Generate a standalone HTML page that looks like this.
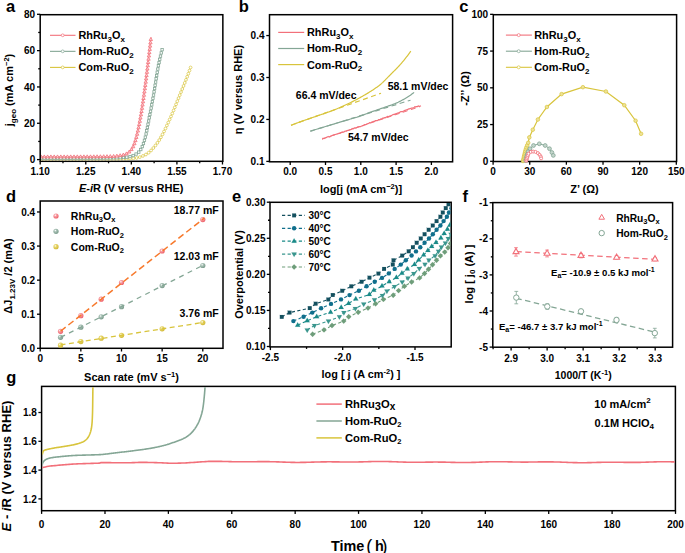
<!DOCTYPE html>
<html><head><meta charset="utf-8"><style>
html,body{margin:0;padding:0;background:#fff;overflow:hidden;width:685px;height:553px;}
svg{display:block;}
</style></head><body>
<svg width="685" height="553" viewBox="0 0 685 553" font-family="Liberation Sans, sans-serif" font-weight="bold" fill="#000">
<rect width="685" height="553" fill="#fff"/>
<text x="6" y="11.9" font-size="16.5" text-anchor="start" >a</text>
<text x="238.8" y="11.8" font-size="16.5" text-anchor="start" >b</text>
<text x="459.3" y="12" font-size="16.5" text-anchor="start" >c</text>
<text x="6" y="201.7" font-size="16.5" text-anchor="start" >d</text>
<text x="232" y="201.8" font-size="16.5" text-anchor="start" >e</text>
<text x="462.5" y="201.7" font-size="16.5" text-anchor="start" >f</text>
<text x="6.3" y="383.3" font-size="16.5" text-anchor="start" >g</text>
<rect x="40.2" y="14.7" width="182.65" height="146.6" fill="none" stroke="#000" stroke-width="1.5"/>
<line x1="37" y1="159.6" x2="40.2" y2="159.6" stroke="#000" stroke-width="1.3"/>
<line x1="37" y1="123.27" x2="40.2" y2="123.27" stroke="#000" stroke-width="1.3"/>
<line x1="37" y1="86.95" x2="40.2" y2="86.95" stroke="#000" stroke-width="1.3"/>
<line x1="37" y1="50.62" x2="40.2" y2="50.62" stroke="#000" stroke-width="1.3"/>
<line x1="37" y1="14.3" x2="40.2" y2="14.3" stroke="#000" stroke-width="1.3"/>
<line x1="38.2" y1="141.44" x2="40.2" y2="141.44" stroke="#000" stroke-width="1.3"/>
<line x1="38.2" y1="105.11" x2="40.2" y2="105.11" stroke="#000" stroke-width="1.3"/>
<line x1="38.2" y1="68.78" x2="40.2" y2="68.78" stroke="#000" stroke-width="1.3"/>
<line x1="38.2" y1="32.46" x2="40.2" y2="32.46" stroke="#000" stroke-width="1.3"/>
<line x1="40.2" y1="161.3" x2="40.2" y2="164.5" stroke="#000" stroke-width="1.3"/>
<line x1="85.77" y1="161.3" x2="85.77" y2="164.5" stroke="#000" stroke-width="1.3"/>
<line x1="131.34" y1="161.3" x2="131.34" y2="164.5" stroke="#000" stroke-width="1.3"/>
<line x1="176.91" y1="161.3" x2="176.91" y2="164.5" stroke="#000" stroke-width="1.3"/>
<line x1="222.48" y1="161.3" x2="222.48" y2="164.5" stroke="#000" stroke-width="1.3"/>
<line x1="62.98" y1="161.3" x2="62.98" y2="163.3" stroke="#000" stroke-width="1.3"/>
<line x1="108.55" y1="161.3" x2="108.55" y2="163.3" stroke="#000" stroke-width="1.3"/>
<line x1="154.12" y1="161.3" x2="154.12" y2="163.3" stroke="#000" stroke-width="1.3"/>
<line x1="199.69" y1="161.3" x2="199.69" y2="163.3" stroke="#000" stroke-width="1.3"/>
<text x="35.2" y="163.2" font-size="10" text-anchor="end" >0</text>
<text x="35.2" y="126.87" font-size="10" text-anchor="end" >20</text>
<text x="35.2" y="90.55" font-size="10" text-anchor="end" >40</text>
<text x="35.2" y="54.22" font-size="10" text-anchor="end" >60</text>
<text x="35.2" y="17.9" font-size="10" text-anchor="end" >80</text>
<text x="40.2" y="175" font-size="10" text-anchor="middle" >1.10</text>
<text x="85.77" y="175" font-size="10" text-anchor="middle" >1.25</text>
<text x="131.34" y="175" font-size="10" text-anchor="middle" >1.40</text>
<text x="176.91" y="175" font-size="10" text-anchor="middle" >1.55</text>
<text x="222.48" y="175" font-size="10" text-anchor="middle" >1.70</text>
<text x="131.2" y="192.3" font-size="11" text-anchor="middle" ><tspan font-style="italic">E</tspan>-<tspan font-style="italic">i</tspan>R (V versus RHE)</text>
<text transform="translate(13.2,90) rotate(-90)" x="0" y="0" font-size="11" text-anchor="middle" >j<tspan dy="2.5" font-size="8">geo</tspan><tspan dy="-2.5"> (mA cm</tspan><tspan dy="-4" font-size="7.5">−2</tspan><tspan dy="4">)</tspan></text>
<rect x="269.5" y="14.7" width="183.1" height="147.1" fill="none" stroke="#000" stroke-width="1.5"/>
<line x1="266.3" y1="161.4" x2="269.5" y2="161.4" stroke="#000" stroke-width="1.3"/>
<line x1="266.3" y1="119.45" x2="269.5" y2="119.45" stroke="#000" stroke-width="1.3"/>
<line x1="266.3" y1="77.5" x2="269.5" y2="77.5" stroke="#000" stroke-width="1.3"/>
<line x1="266.3" y1="35.55" x2="269.5" y2="35.55" stroke="#000" stroke-width="1.3"/>
<line x1="290.2" y1="161.8" x2="290.2" y2="165" stroke="#000" stroke-width="1.3"/>
<line x1="325.5" y1="161.8" x2="325.5" y2="165" stroke="#000" stroke-width="1.3"/>
<line x1="360.8" y1="161.8" x2="360.8" y2="165" stroke="#000" stroke-width="1.3"/>
<line x1="396.1" y1="161.8" x2="396.1" y2="165" stroke="#000" stroke-width="1.3"/>
<line x1="431.4" y1="161.8" x2="431.4" y2="165" stroke="#000" stroke-width="1.3"/>
<text x="264.5" y="165" font-size="10" text-anchor="end" >0.1</text>
<text x="264.5" y="123.05" font-size="10" text-anchor="end" >0.2</text>
<text x="264.5" y="81.1" font-size="10" text-anchor="end" >0.3</text>
<text x="264.5" y="39.15" font-size="10" text-anchor="end" >0.4</text>
<text x="290.2" y="175" font-size="10" text-anchor="middle" >0.0</text>
<text x="325.5" y="175" font-size="10" text-anchor="middle" >0.5</text>
<text x="360.8" y="175" font-size="10" text-anchor="middle" >1.0</text>
<text x="396.1" y="175" font-size="10" text-anchor="middle" >1.5</text>
<text x="431.4" y="175" font-size="10" text-anchor="middle" >2.0</text>
<text x="361" y="192.6" font-size="11" text-anchor="middle" >log[j (mA cm<tspan dy="-4" font-size="7.5">−2</tspan><tspan dy="4">)]</tspan></text>
<text transform="translate(242,89.5) rotate(-90)" x="0" y="0" font-size="11" text-anchor="middle" >η (V versus RHE)</text>
<rect x="493.3" y="14.7" width="183.3" height="146.8" fill="none" stroke="#000" stroke-width="1.5"/>
<line x1="490.1" y1="161.3" x2="493.3" y2="161.3" stroke="#000" stroke-width="1.3"/>
<line x1="490.1" y1="124.56" x2="493.3" y2="124.56" stroke="#000" stroke-width="1.3"/>
<line x1="490.1" y1="87.82" x2="493.3" y2="87.82" stroke="#000" stroke-width="1.3"/>
<line x1="490.1" y1="51.08" x2="493.3" y2="51.08" stroke="#000" stroke-width="1.3"/>
<line x1="490.1" y1="14.34" x2="493.3" y2="14.34" stroke="#000" stroke-width="1.3"/>
<line x1="493.1" y1="161.5" x2="493.1" y2="164.7" stroke="#000" stroke-width="1.3"/>
<line x1="529.74" y1="161.5" x2="529.74" y2="164.7" stroke="#000" stroke-width="1.3"/>
<line x1="566.38" y1="161.5" x2="566.38" y2="164.7" stroke="#000" stroke-width="1.3"/>
<line x1="603.02" y1="161.5" x2="603.02" y2="164.7" stroke="#000" stroke-width="1.3"/>
<line x1="639.66" y1="161.5" x2="639.66" y2="164.7" stroke="#000" stroke-width="1.3"/>
<line x1="676.3" y1="161.5" x2="676.3" y2="164.7" stroke="#000" stroke-width="1.3"/>
<text x="488.2" y="164.9" font-size="10" text-anchor="end" >0</text>
<text x="488.2" y="128.16" font-size="10" text-anchor="end" >25</text>
<text x="488.2" y="91.42" font-size="10" text-anchor="end" >50</text>
<text x="488.2" y="54.68" font-size="10" text-anchor="end" >75</text>
<text x="488.2" y="17.94" font-size="10" text-anchor="end" >100</text>
<text x="493.1" y="175" font-size="10" text-anchor="middle" >0</text>
<text x="529.74" y="175" font-size="10" text-anchor="middle" >30</text>
<text x="566.38" y="175" font-size="10" text-anchor="middle" >60</text>
<text x="603.02" y="175" font-size="10" text-anchor="middle" >90</text>
<text x="639.66" y="175" font-size="10" text-anchor="middle" >120</text>
<text x="676.3" y="175" font-size="10" text-anchor="middle" >150</text>
<text x="584.5" y="193" font-size="11" text-anchor="middle" >Z’ (Ω)</text>
<text transform="translate(469.3,88.5) rotate(-90)" x="0" y="0" font-size="11" text-anchor="middle" >-Z’’ (Ω)</text>
<rect x="40.2" y="201" width="182.8" height="147.3" fill="none" stroke="#000" stroke-width="1.5"/>
<line x1="37" y1="348.3" x2="40.2" y2="348.3" stroke="#000" stroke-width="1.3"/>
<line x1="37" y1="314.22" x2="40.2" y2="314.22" stroke="#000" stroke-width="1.3"/>
<line x1="37" y1="280.14" x2="40.2" y2="280.14" stroke="#000" stroke-width="1.3"/>
<line x1="37" y1="246.06" x2="40.2" y2="246.06" stroke="#000" stroke-width="1.3"/>
<line x1="37" y1="211.98" x2="40.2" y2="211.98" stroke="#000" stroke-width="1.3"/>
<line x1="40.2" y1="348.3" x2="40.2" y2="351.5" stroke="#000" stroke-width="1.3"/>
<line x1="80.85" y1="348.3" x2="80.85" y2="351.5" stroke="#000" stroke-width="1.3"/>
<line x1="121.5" y1="348.3" x2="121.5" y2="351.5" stroke="#000" stroke-width="1.3"/>
<line x1="162.15" y1="348.3" x2="162.15" y2="351.5" stroke="#000" stroke-width="1.3"/>
<line x1="202.8" y1="348.3" x2="202.8" y2="351.5" stroke="#000" stroke-width="1.3"/>
<text x="35.2" y="351.9" font-size="10" text-anchor="end" >0.0</text>
<text x="35.2" y="317.82" font-size="10" text-anchor="end" >0.1</text>
<text x="35.2" y="283.74" font-size="10" text-anchor="end" >0.2</text>
<text x="35.2" y="249.66" font-size="10" text-anchor="end" >0.3</text>
<text x="35.2" y="215.58" font-size="10" text-anchor="end" >0.4</text>
<text x="40.2" y="362" font-size="10" text-anchor="middle" >0</text>
<text x="80.85" y="362" font-size="10" text-anchor="middle" >5</text>
<text x="121.5" y="362" font-size="10" text-anchor="middle" >10</text>
<text x="162.15" y="362" font-size="10" text-anchor="middle" >15</text>
<text x="202.8" y="362" font-size="10" text-anchor="middle" >20</text>
<text x="131.5" y="380.8" font-size="11" text-anchor="middle" >Scan rate (mV s<tspan dy="-4" font-size="7.5">−1</tspan><tspan dy="4">)</tspan></text>
<text transform="translate(12.2,276) rotate(-90)" x="0" y="0" font-size="11" text-anchor="middle" >ΔJ<tspan dy="2.5" font-size="8">1.23V</tspan><tspan dy="-2.5"> /2 (mA)</tspan></text>
<rect x="270" y="202.3" width="181.2" height="144.6" fill="none" stroke="#000" stroke-width="1.5"/>
<line x1="266.8" y1="346.5" x2="270" y2="346.5" stroke="#000" stroke-width="1.3"/>
<line x1="266.8" y1="310.43" x2="270" y2="310.43" stroke="#000" stroke-width="1.3"/>
<line x1="266.8" y1="274.35" x2="270" y2="274.35" stroke="#000" stroke-width="1.3"/>
<line x1="266.8" y1="238.28" x2="270" y2="238.28" stroke="#000" stroke-width="1.3"/>
<line x1="266.8" y1="202.2" x2="270" y2="202.2" stroke="#000" stroke-width="1.3"/>
<line x1="268" y1="328.46" x2="270" y2="328.46" stroke="#000" stroke-width="1.3"/>
<line x1="268" y1="292.39" x2="270" y2="292.39" stroke="#000" stroke-width="1.3"/>
<line x1="268" y1="256.31" x2="270" y2="256.31" stroke="#000" stroke-width="1.3"/>
<line x1="268" y1="220.24" x2="270" y2="220.24" stroke="#000" stroke-width="1.3"/>
<line x1="270.4" y1="346.9" x2="270.4" y2="350.1" stroke="#000" stroke-width="1.3"/>
<line x1="342.7" y1="346.9" x2="342.7" y2="350.1" stroke="#000" stroke-width="1.3"/>
<line x1="415" y1="346.9" x2="415" y2="350.1" stroke="#000" stroke-width="1.3"/>
<line x1="306.55" y1="346.9" x2="306.55" y2="348.9" stroke="#000" stroke-width="1.3"/>
<line x1="378.85" y1="346.9" x2="378.85" y2="348.9" stroke="#000" stroke-width="1.3"/>
<text x="265.5" y="350.1" font-size="10" text-anchor="end" >0.10</text>
<text x="265.5" y="314.03" font-size="10" text-anchor="end" >0.15</text>
<text x="265.5" y="277.95" font-size="10" text-anchor="end" >0.20</text>
<text x="265.5" y="241.88" font-size="10" text-anchor="end" >0.25</text>
<text x="265.5" y="205.8" font-size="10" text-anchor="end" >0.30</text>
<text x="270.4" y="361" font-size="10" text-anchor="middle" >-2.5</text>
<text x="342.7" y="361" font-size="10" text-anchor="middle" >-2.0</text>
<text x="415" y="361" font-size="10" text-anchor="middle" >-1.5</text>
<text x="361" y="378" font-size="10.9" text-anchor="middle" >log [ j (A cm<tspan dy="-4" font-size="7.5">-2</tspan><tspan dy="4">) ]</tspan></text>
<text transform="translate(242.5,274.5) rotate(-90)" x="0" y="0" font-size="11" text-anchor="middle" >Overpotential (V)</text>
<rect x="492.8" y="202.6" width="179.8" height="144.6" fill="none" stroke="#000" stroke-width="1.5"/>
<line x1="489.6" y1="202.7" x2="492.8" y2="202.7" stroke="#000" stroke-width="1.3"/>
<line x1="489.6" y1="238.8" x2="492.8" y2="238.8" stroke="#000" stroke-width="1.3"/>
<line x1="489.6" y1="274.9" x2="492.8" y2="274.9" stroke="#000" stroke-width="1.3"/>
<line x1="489.6" y1="311" x2="492.8" y2="311" stroke="#000" stroke-width="1.3"/>
<line x1="489.6" y1="347.1" x2="492.8" y2="347.1" stroke="#000" stroke-width="1.3"/>
<line x1="490.8" y1="220.75" x2="492.8" y2="220.75" stroke="#000" stroke-width="1.3"/>
<line x1="490.8" y1="256.85" x2="492.8" y2="256.85" stroke="#000" stroke-width="1.3"/>
<line x1="490.8" y1="292.95" x2="492.8" y2="292.95" stroke="#000" stroke-width="1.3"/>
<line x1="490.8" y1="329.05" x2="492.8" y2="329.05" stroke="#000" stroke-width="1.3"/>
<line x1="511.1" y1="347.2" x2="511.1" y2="350.4" stroke="#000" stroke-width="1.3"/>
<line x1="547.12" y1="347.2" x2="547.12" y2="350.4" stroke="#000" stroke-width="1.3"/>
<line x1="583.14" y1="347.2" x2="583.14" y2="350.4" stroke="#000" stroke-width="1.3"/>
<line x1="619.16" y1="347.2" x2="619.16" y2="350.4" stroke="#000" stroke-width="1.3"/>
<line x1="655.18" y1="347.2" x2="655.18" y2="350.4" stroke="#000" stroke-width="1.3"/>
<line x1="493.09" y1="347.2" x2="493.09" y2="349.2" stroke="#000" stroke-width="1.3"/>
<line x1="529.11" y1="347.2" x2="529.11" y2="349.2" stroke="#000" stroke-width="1.3"/>
<line x1="565.13" y1="347.2" x2="565.13" y2="349.2" stroke="#000" stroke-width="1.3"/>
<line x1="601.15" y1="347.2" x2="601.15" y2="349.2" stroke="#000" stroke-width="1.3"/>
<line x1="637.17" y1="347.2" x2="637.17" y2="349.2" stroke="#000" stroke-width="1.3"/>
<text x="488" y="206.3" font-size="10" text-anchor="end" >-1</text>
<text x="488" y="242.4" font-size="10" text-anchor="end" >-2</text>
<text x="488" y="278.5" font-size="10" text-anchor="end" >-3</text>
<text x="488" y="314.6" font-size="10" text-anchor="end" >-4</text>
<text x="488" y="350.7" font-size="10" text-anchor="end" >-5</text>
<text x="511.1" y="362" font-size="10" text-anchor="middle" >2.9</text>
<text x="547.12" y="362" font-size="10" text-anchor="middle" >3.0</text>
<text x="583.14" y="362" font-size="10" text-anchor="middle" >3.1</text>
<text x="619.16" y="362" font-size="10" text-anchor="middle" >3.2</text>
<text x="655.18" y="362" font-size="10" text-anchor="middle" >3.3</text>
<text x="583.2" y="379.2" font-size="10.5" text-anchor="middle" >1000/T (K<tspan dy="-4" font-size="7.5">-1</tspan><tspan dy="4">)</tspan></text>
<text transform="translate(472.5,274) rotate(-90)" x="0" y="0" font-size="11" text-anchor="middle" >log [ j<tspan dy="2.5" font-size="8">0</tspan><tspan dy="-2.5"> (A) ]</tspan></text>
<rect x="41.6" y="386.4" width="633.8" height="124.3" fill="none" stroke="#000" stroke-width="1.5"/>
<line x1="38.4" y1="498.9" x2="41.6" y2="498.9" stroke="#000" stroke-width="1.3"/>
<line x1="38.4" y1="470.1" x2="41.6" y2="470.1" stroke="#000" stroke-width="1.3"/>
<line x1="38.4" y1="441.3" x2="41.6" y2="441.3" stroke="#000" stroke-width="1.3"/>
<line x1="38.4" y1="412.5" x2="41.6" y2="412.5" stroke="#000" stroke-width="1.3"/>
<line x1="41.6" y1="510.7" x2="41.6" y2="513.9" stroke="#000" stroke-width="1.3"/>
<line x1="104.99" y1="510.7" x2="104.99" y2="513.9" stroke="#000" stroke-width="1.3"/>
<line x1="168.38" y1="510.7" x2="168.38" y2="513.9" stroke="#000" stroke-width="1.3"/>
<line x1="231.77" y1="510.7" x2="231.77" y2="513.9" stroke="#000" stroke-width="1.3"/>
<line x1="295.16" y1="510.7" x2="295.16" y2="513.9" stroke="#000" stroke-width="1.3"/>
<line x1="358.55" y1="510.7" x2="358.55" y2="513.9" stroke="#000" stroke-width="1.3"/>
<line x1="421.94" y1="510.7" x2="421.94" y2="513.9" stroke="#000" stroke-width="1.3"/>
<line x1="485.33" y1="510.7" x2="485.33" y2="513.9" stroke="#000" stroke-width="1.3"/>
<line x1="548.72" y1="510.7" x2="548.72" y2="513.9" stroke="#000" stroke-width="1.3"/>
<line x1="612.11" y1="510.7" x2="612.11" y2="513.9" stroke="#000" stroke-width="1.3"/>
<line x1="675.5" y1="510.7" x2="675.5" y2="513.9" stroke="#000" stroke-width="1.3"/>
<text x="36.8" y="502.5" font-size="10" text-anchor="end" >1.2</text>
<text x="36.8" y="473.7" font-size="10" text-anchor="end" >1.4</text>
<text x="36.8" y="444.9" font-size="10" text-anchor="end" >1.6</text>
<text x="36.8" y="416.1" font-size="10" text-anchor="end" >1.8</text>
<text x="41.6" y="528" font-size="10" text-anchor="middle" >0</text>
<text x="104.99" y="528" font-size="10" text-anchor="middle" >20</text>
<text x="168.38" y="528" font-size="10" text-anchor="middle" >40</text>
<text x="231.77" y="528" font-size="10" text-anchor="middle" >60</text>
<text x="295.16" y="528" font-size="10" text-anchor="middle" >80</text>
<text x="358.55" y="528" font-size="10" text-anchor="middle" >100</text>
<text x="421.94" y="528" font-size="10" text-anchor="middle" >120</text>
<text x="485.33" y="528" font-size="10" text-anchor="middle" >140</text>
<text x="548.72" y="528" font-size="10" text-anchor="middle" >160</text>
<text x="612.11" y="528" font-size="10" text-anchor="middle" >180</text>
<text x="675.5" y="528" font-size="10" text-anchor="middle" >200</text>
<text x="331" y="551.2" font-size="14.4" text-anchor="start" >Time</text>
<text x="366.3" y="551.8" font-size="18" font-weight="normal">(</text>
<text x="375" y="551.2" font-size="14.4" text-anchor="start" >h</text>
<text x="381.6" y="551.8" font-size="18" font-weight="normal">)</text>
<text transform="translate(10.8,466) rotate(-90)" x="0" y="0" font-size="13" text-anchor="middle" ><tspan font-style="italic">E</tspan> - <tspan font-style="italic">i</tspan>R (V versus RHE)</text>
<defs><clipPath id="clipA"><rect x="41" y="15" width="181" height="145.5"/></clipPath></defs>
<g clip-path="url(#clipA)">
<path d="M41,159.3 L41.51,159.3 L42.03,159.3 L42.54,159.3 L43.06,159.3 L43.57,159.3 L44.09,159.3 L44.6,159.3 L45.11,159.3 L45.63,159.3 L46.14,159.3 L46.66,159.3 L47.17,159.3 L47.68,159.3 L48.2,159.3 L48.71,159.3 L49.23,159.3 L49.74,159.3 L50.26,159.3 L50.77,159.3 L51.28,159.3 L51.8,159.3 L52.31,159.3 L52.83,159.3 L53.34,159.3 L53.85,159.3 L54.37,159.3 L54.88,159.3 L55.4,159.3 L55.91,159.3 L56.43,159.3 L56.94,159.3 L57.45,159.3 L57.97,159.3 L58.48,159.29 L59,159.29 L59.51,159.29 L60.02,159.29 L60.54,159.29 L61.05,159.29 L61.57,159.29 L62.08,159.29 L62.59,159.29 L63.11,159.29 L63.62,159.29 L64.14,159.29 L64.65,159.29 L65.17,159.29 L65.68,159.29 L66.19,159.29 L66.71,159.29 L67.22,159.29 L67.74,159.29 L68.25,159.29 L68.76,159.29 L69.28,159.29 L69.79,159.29 L70.31,159.28 L70.82,159.28 L71.33,159.28 L71.85,159.28 L72.36,159.28 L72.88,159.28 L73.39,159.28 L73.91,159.28 L74.42,159.28 L74.93,159.28 L75.45,159.28 L75.96,159.28 L76.48,159.28 L76.99,159.28 L77.5,159.28 L78.02,159.28 L78.53,159.27 L79.05,159.27 L79.56,159.27 L80.07,159.27 L80.59,159.27 L81.1,159.27 L81.62,159.27 L82.13,159.27 L82.65,159.27 L83.16,159.27 L83.67,159.27 L84.19,159.27 L84.7,159.26 L85.22,159.26 L85.73,159.26 L86.24,159.26 L86.76,159.26 L87.27,159.26 L87.79,159.26 L88.3,159.26 L88.81,159.26 L89.33,159.26 L89.84,159.25 L90.36,159.25 L90.87,159.25 L91.38,159.25 L91.9,159.25 L92.41,159.25 L92.93,159.25 L93.44,159.25 L93.95,159.25 L94.47,159.24 L94.98,159.24 L95.5,159.24 L96.01,159.24 L96.53,159.24 L97.04,159.24 L97.55,159.24 L98.07,159.24 L98.58,159.23 L99.1,159.23 L99.61,159.23 L100.12,159.23 L100.64,159.23 L101.15,159.23 L101.67,159.23 L102.18,159.22 L102.69,159.22 L103.21,159.22 L103.72,159.22 L104.24,159.22 L104.75,159.22 L105.26,159.21 L105.78,159.21 L106.29,159.21 L106.81,159.21 L107.32,159.21 L107.83,159.21 L108.35,159.21 L108.86,159.2 L109.38,159.2 L109.89,159.2 L110.4,159.2 L110.92,159.2 L111.43,159.19 L111.95,159.19 L112.46,159.18 L112.98,159.18 L113.49,159.17 L114,159.17 L114.52,159.16 L115.03,159.15 L115.55,159.14 L116.06,159.13 L116.57,159.12 L117.09,159.11 L117.6,159.1 L118.12,159.09 L118.63,159.08 L119.15,159.07 L119.66,159.05 L120.17,159.04 L120.69,159.03 L121.2,159.01 L121.72,159 L122.23,158.99 L122.74,158.97 L123.26,158.95 L123.77,158.94 L124.28,158.92 L124.8,158.91 L125.31,158.89 L125.82,158.87 L126.34,158.85 L126.85,158.83 L127.37,158.8 L127.89,158.78 L128.4,158.75 L128.92,158.72 L129.43,158.69 L129.95,158.66 L130.46,158.62 L130.98,158.58 L131.49,158.54 L132.01,158.5 L132.52,158.45 L133.03,158.41 L133.54,158.36 L134.05,158.3 L134.56,158.25 L135.06,158.19 L135.57,158.13 L136.07,158.06 L136.57,157.98 L137.08,157.88 L137.58,157.76 L138.08,157.63 L138.58,157.49 L139.08,157.34 L139.57,157.18 L140.06,157.01 L140.55,156.84 L141.03,156.67 L141.51,156.5 L141.99,156.32 L142.47,156.13 L142.95,155.94 L143.43,155.73 L143.9,155.52 L144.37,155.29 L144.84,155.06 L145.31,154.82 L145.76,154.58 L146.21,154.33 L146.66,154.07 L147.09,153.8 L147.51,153.53 L147.92,153.25 L148.33,152.95 L148.73,152.64 L149.12,152.32 L149.51,151.98 L149.89,151.64 L150.27,151.28 L150.64,150.92 L151.01,150.54 L151.37,150.17 L151.73,149.78 L152.08,149.4 L152.43,149.01 L152.77,148.62 L153.12,148.24 L153.45,147.85 L153.79,147.47 L154.12,147.08 L154.45,146.69 L154.77,146.29 L155.1,145.89 L155.42,145.49 L155.74,145.08 L156.05,144.67 L156.36,144.26 L156.67,143.84 L156.98,143.42 L157.28,143 L157.58,142.58 L157.87,142.16 L158.16,141.73 L158.45,141.3 L158.73,140.87 L159.01,140.44 L159.28,140.01 L159.55,139.58 L159.82,139.14 L160.08,138.71 L160.34,138.27 L160.6,137.83 L160.86,137.39 L161.11,136.95 L161.37,136.5 L161.62,136.05 L161.86,135.61 L162.11,135.16 L162.35,134.7 L162.6,134.25 L162.84,133.8 L163.08,133.34 L163.31,132.88 L163.55,132.43 L163.78,131.97 L164.01,131.51 L164.24,131.05 L164.47,130.58 L164.7,130.12 L164.93,129.66 L165.15,129.19 L165.38,128.73 L165.6,128.26 L165.82,127.79 L166.04,127.33 L166.26,126.86 L166.48,126.39 L166.7,125.92 L166.92,125.45 L167.14,124.99 L167.35,124.52 L167.57,124.05 L167.78,123.58 L168,123.11 L168.21,122.64 L168.43,122.17 L168.64,121.7 L168.85,121.23 L169.07,120.77 L169.28,120.3 L169.49,119.83 L169.71,119.37 L169.92,118.9 L170.13,118.43 L170.34,117.96 L170.55,117.49 L170.76,117.02 L170.96,116.55 L171.17,116.08 L171.38,115.61 L171.58,115.14 L171.78,114.67 L171.99,114.2 L172.19,113.72 L172.39,113.25 L172.59,112.78 L172.79,112.3 L172.99,111.83 L173.18,111.36 L173.38,110.88 L173.58,110.41 L173.78,109.93 L173.97,109.46 L174.17,108.98 L174.36,108.5 L174.56,108.03 L174.75,107.55 L174.95,107.07 L175.14,106.6 L175.33,106.12 L175.53,105.64 L175.72,105.17 L175.91,104.69 L176.1,104.21 L176.3,103.73 L176.49,103.26 L176.68,102.78 L176.87,102.3 L177.06,101.83 L177.26,101.35 L177.45,100.87 L177.64,100.39 L177.83,99.92 L178.02,99.44 L178.22,98.96 L178.41,98.49 L178.6,98.01 L178.8,97.53 L178.99,97.06 L179.18,96.58 L179.38,96.1 L179.57,95.63 L179.77,95.15 L179.96,94.68 L180.15,94.2 L180.35,93.72 L180.54,93.25 L180.74,92.77 L180.93,92.3 L181.13,91.82 L181.33,91.34 L181.52,90.87 L181.71,90.39 L181.91,89.92 L182.1,89.44 L182.3,88.97 L182.49,88.49 L182.69,88.01 L182.88,87.54 L183.08,87.06 L183.27,86.58 L183.46,86.11 L183.66,85.63 L183.85,85.16 L184.04,84.68 L184.23,84.2 L184.43,83.72 L184.62,83.25 L184.81,82.77 L185,82.29 L185.19,81.82 L185.38,81.34 L185.57,80.86 L185.76,80.38 L185.95,79.9 L186.14,79.43 L186.32,78.95 L186.51,78.47 L186.7,77.99 L186.88,77.51 L187.07,77.03 L187.25,76.55 L187.44,76.07 L187.62,75.59 L187.8,75.11 L187.98,74.63 L188.16,74.15 L188.34,73.67 L188.52,73.18 L188.7,72.7 L188.88,72.22 L189.06,71.74 L189.23,71.25 L189.41,70.77 L189.58,70.29 L189.76,69.8 L189.93,69.32 L190.11,68.84 L190.28,68.35 L190.45,67.87 L190.63,67.38 L190.8,66.9" fill="none" stroke="#d8c43c" stroke-width="0.8"/>
<circle cx="41" cy="159.3" r="1.4" fill="#fff" stroke="#d8c43c" stroke-width="0.7"/>
<circle cx="44.3" cy="159.3" r="1.4" fill="#fff" stroke="#d8c43c" stroke-width="0.7"/>
<circle cx="47.6" cy="159.3" r="1.4" fill="#fff" stroke="#d8c43c" stroke-width="0.7"/>
<circle cx="50.9" cy="159.3" r="1.4" fill="#fff" stroke="#d8c43c" stroke-width="0.7"/>
<circle cx="54.2" cy="159.3" r="1.4" fill="#fff" stroke="#d8c43c" stroke-width="0.7"/>
<circle cx="57.5" cy="159.3" r="1.4" fill="#fff" stroke="#d8c43c" stroke-width="0.7"/>
<circle cx="60.8" cy="159.29" r="1.4" fill="#fff" stroke="#d8c43c" stroke-width="0.7"/>
<circle cx="64.1" cy="159.29" r="1.4" fill="#fff" stroke="#d8c43c" stroke-width="0.7"/>
<circle cx="67.4" cy="159.29" r="1.4" fill="#fff" stroke="#d8c43c" stroke-width="0.7"/>
<circle cx="70.7" cy="159.28" r="1.4" fill="#fff" stroke="#d8c43c" stroke-width="0.7"/>
<circle cx="74" cy="159.28" r="1.4" fill="#fff" stroke="#d8c43c" stroke-width="0.7"/>
<circle cx="77.3" cy="159.28" r="1.4" fill="#fff" stroke="#d8c43c" stroke-width="0.7"/>
<circle cx="80.6" cy="159.27" r="1.4" fill="#fff" stroke="#d8c43c" stroke-width="0.7"/>
<circle cx="83.9" cy="159.27" r="1.4" fill="#fff" stroke="#d8c43c" stroke-width="0.7"/>
<circle cx="87.2" cy="159.26" r="1.4" fill="#fff" stroke="#d8c43c" stroke-width="0.7"/>
<circle cx="90.5" cy="159.25" r="1.4" fill="#fff" stroke="#d8c43c" stroke-width="0.7"/>
<circle cx="93.8" cy="159.25" r="1.4" fill="#fff" stroke="#d8c43c" stroke-width="0.7"/>
<circle cx="97.1" cy="159.24" r="1.4" fill="#fff" stroke="#d8c43c" stroke-width="0.7"/>
<circle cx="100.4" cy="159.23" r="1.4" fill="#fff" stroke="#d8c43c" stroke-width="0.7"/>
<circle cx="103.7" cy="159.22" r="1.4" fill="#fff" stroke="#d8c43c" stroke-width="0.7"/>
<circle cx="107" cy="159.21" r="1.4" fill="#fff" stroke="#d8c43c" stroke-width="0.7"/>
<circle cx="110.3" cy="159.2" r="1.4" fill="#fff" stroke="#d8c43c" stroke-width="0.7"/>
<circle cx="113.6" cy="159.17" r="1.4" fill="#fff" stroke="#d8c43c" stroke-width="0.7"/>
<circle cx="116.9" cy="159.12" r="1.4" fill="#fff" stroke="#d8c43c" stroke-width="0.7"/>
<circle cx="120.2" cy="159.04" r="1.4" fill="#fff" stroke="#d8c43c" stroke-width="0.7"/>
<circle cx="123.5" cy="158.95" r="1.4" fill="#fff" stroke="#d8c43c" stroke-width="0.7"/>
<circle cx="126.8" cy="158.83" r="1.4" fill="#fff" stroke="#d8c43c" stroke-width="0.7"/>
<circle cx="130.09" cy="158.65" r="1.4" fill="#fff" stroke="#d8c43c" stroke-width="0.7"/>
<circle cx="133.38" cy="158.37" r="1.4" fill="#fff" stroke="#d8c43c" stroke-width="0.7"/>
<circle cx="136.65" cy="157.96" r="1.4" fill="#fff" stroke="#d8c43c" stroke-width="0.7"/>
<circle cx="139.83" cy="157.09" r="1.4" fill="#fff" stroke="#d8c43c" stroke-width="0.7"/>
<circle cx="142.93" cy="155.94" r="1.4" fill="#fff" stroke="#d8c43c" stroke-width="0.7"/>
<circle cx="145.89" cy="154.51" r="1.4" fill="#fff" stroke="#d8c43c" stroke-width="0.7"/>
<circle cx="148.65" cy="152.7" r="1.4" fill="#fff" stroke="#d8c43c" stroke-width="0.7"/>
<circle cx="151.08" cy="150.47" r="1.4" fill="#fff" stroke="#d8c43c" stroke-width="0.7"/>
<circle cx="153.3" cy="148.03" r="1.4" fill="#fff" stroke="#d8c43c" stroke-width="0.7"/>
<circle cx="155.41" cy="145.5" r="1.4" fill="#fff" stroke="#d8c43c" stroke-width="0.7"/>
<circle cx="157.39" cy="142.85" r="1.4" fill="#fff" stroke="#d8c43c" stroke-width="0.7"/>
<circle cx="159.22" cy="140.11" r="1.4" fill="#fff" stroke="#d8c43c" stroke-width="0.7"/>
<circle cx="160.92" cy="137.28" r="1.4" fill="#fff" stroke="#d8c43c" stroke-width="0.7"/>
<circle cx="162.52" cy="134.39" r="1.4" fill="#fff" stroke="#d8c43c" stroke-width="0.7"/>
<circle cx="164.04" cy="131.46" r="1.4" fill="#fff" stroke="#d8c43c" stroke-width="0.7"/>
<circle cx="165.49" cy="128.5" r="1.4" fill="#fff" stroke="#d8c43c" stroke-width="0.7"/>
<circle cx="166.89" cy="125.51" r="1.4" fill="#fff" stroke="#d8c43c" stroke-width="0.7"/>
<circle cx="168.27" cy="122.51" r="1.4" fill="#fff" stroke="#d8c43c" stroke-width="0.7"/>
<circle cx="169.64" cy="119.51" r="1.4" fill="#fff" stroke="#d8c43c" stroke-width="0.7"/>
<circle cx="170.99" cy="116.5" r="1.4" fill="#fff" stroke="#d8c43c" stroke-width="0.7"/>
<circle cx="172.3" cy="113.47" r="1.4" fill="#fff" stroke="#d8c43c" stroke-width="0.7"/>
<circle cx="173.57" cy="110.43" r="1.4" fill="#fff" stroke="#d8c43c" stroke-width="0.7"/>
<circle cx="174.82" cy="107.37" r="1.4" fill="#fff" stroke="#d8c43c" stroke-width="0.7"/>
<circle cx="176.06" cy="104.31" r="1.4" fill="#fff" stroke="#d8c43c" stroke-width="0.7"/>
<circle cx="177.29" cy="101.25" r="1.4" fill="#fff" stroke="#d8c43c" stroke-width="0.7"/>
<circle cx="178.53" cy="98.19" r="1.4" fill="#fff" stroke="#d8c43c" stroke-width="0.7"/>
<circle cx="179.77" cy="95.13" r="1.4" fill="#fff" stroke="#d8c43c" stroke-width="0.7"/>
<circle cx="181.02" cy="92.08" r="1.4" fill="#fff" stroke="#d8c43c" stroke-width="0.7"/>
<circle cx="182.27" cy="89.03" r="1.4" fill="#fff" stroke="#d8c43c" stroke-width="0.7"/>
<circle cx="183.52" cy="85.97" r="1.4" fill="#fff" stroke="#d8c43c" stroke-width="0.7"/>
<circle cx="184.75" cy="82.91" r="1.4" fill="#fff" stroke="#d8c43c" stroke-width="0.7"/>
<circle cx="185.97" cy="79.84" r="1.4" fill="#fff" stroke="#d8c43c" stroke-width="0.7"/>
<circle cx="187.17" cy="76.77" r="1.4" fill="#fff" stroke="#d8c43c" stroke-width="0.7"/>
<circle cx="188.34" cy="73.68" r="1.4" fill="#fff" stroke="#d8c43c" stroke-width="0.7"/>
<circle cx="189.48" cy="70.59" r="1.4" fill="#fff" stroke="#d8c43c" stroke-width="0.7"/>
<circle cx="190.59" cy="67.48" r="1.4" fill="#fff" stroke="#d8c43c" stroke-width="0.7"/>
<path d="M41,158.2 L41.51,158.2 L42.03,158.2 L42.54,158.2 L43.05,158.2 L43.56,158.2 L44.08,158.2 L44.59,158.2 L45.1,158.2 L45.61,158.2 L46.13,158.2 L46.64,158.2 L47.15,158.2 L47.66,158.2 L48.18,158.2 L48.69,158.2 L49.2,158.2 L49.71,158.2 L50.23,158.2 L50.74,158.2 L51.25,158.2 L51.76,158.2 L52.28,158.2 L52.79,158.2 L53.3,158.2 L53.81,158.2 L54.33,158.2 L54.84,158.2 L55.35,158.19 L55.86,158.19 L56.38,158.19 L56.89,158.19 L57.4,158.19 L57.91,158.19 L58.43,158.19 L58.94,158.19 L59.45,158.19 L59.96,158.19 L60.48,158.19 L60.99,158.19 L61.5,158.19 L62.01,158.19 L62.53,158.19 L63.04,158.19 L63.55,158.19 L64.06,158.19 L64.58,158.19 L65.09,158.18 L65.6,158.18 L66.11,158.18 L66.63,158.18 L67.14,158.18 L67.65,158.18 L68.16,158.18 L68.68,158.18 L69.19,158.18 L69.7,158.18 L70.21,158.18 L70.73,158.18 L71.24,158.18 L71.75,158.17 L72.26,158.17 L72.78,158.17 L73.29,158.17 L73.8,158.17 L74.31,158.17 L74.83,158.17 L75.34,158.17 L75.85,158.17 L76.36,158.17 L76.88,158.17 L77.39,158.16 L77.9,158.16 L78.41,158.16 L78.93,158.16 L79.44,158.16 L79.95,158.16 L80.46,158.16 L80.98,158.16 L81.49,158.15 L82,158.15 L82.51,158.15 L83.03,158.15 L83.54,158.15 L84.05,158.15 L84.56,158.15 L85.08,158.15 L85.59,158.14 L86.1,158.14 L86.61,158.14 L87.13,158.14 L87.64,158.14 L88.15,158.14 L88.66,158.14 L89.18,158.14 L89.69,158.13 L90.2,158.13 L90.71,158.13 L91.23,158.13 L91.74,158.13 L92.25,158.13 L92.76,158.12 L93.28,158.12 L93.79,158.12 L94.3,158.12 L94.81,158.12 L95.33,158.12 L95.84,158.11 L96.35,158.11 L96.86,158.11 L97.37,158.11 L97.89,158.11 L98.4,158.11 L98.91,158.1 L99.42,158.1 L99.94,158.1 L100.45,158.1 L100.96,158.1 L101.47,158.09 L101.99,158.09 L102.5,158.09 L103.01,158.08 L103.53,158.08 L104.04,158.07 L104.55,158.07 L105.06,158.06 L105.58,158.05 L106.09,158.05 L106.6,158.04 L107.11,158.03 L107.63,158.02 L108.14,158.02 L108.65,158.01 L109.17,158 L109.68,157.99 L110.19,157.98 L110.7,157.97 L111.22,157.95 L111.73,157.94 L112.24,157.93 L112.75,157.92 L113.27,157.91 L113.78,157.89 L114.29,157.88 L114.8,157.87 L115.31,157.85 L115.83,157.84 L116.34,157.82 L116.85,157.81 L117.36,157.79 L117.87,157.77 L118.39,157.76 L118.9,157.74 L119.41,157.72 L119.92,157.7 L120.43,157.68 L120.94,157.66 L121.46,157.63 L121.97,157.6 L122.48,157.57 L123,157.53 L123.51,157.49 L124.02,157.45 L124.54,157.4 L125.05,157.35 L125.56,157.3 L126.07,157.24 L126.58,157.19 L127.08,157.12 L127.59,157.06 L128.09,156.99 L128.59,156.9 L129.09,156.8 L129.59,156.69 L130.09,156.56 L130.59,156.42 L131.09,156.27 L131.58,156.11 L132.06,155.94 L132.54,155.77 L133.02,155.59 L133.49,155.41 L133.96,155.2 L134.43,154.98 L134.89,154.74 L135.35,154.5 L135.79,154.24 L136.23,153.97 L136.65,153.7 L137.08,153.41 L137.51,153.11 L137.94,152.79 L138.36,152.46 L138.76,152.12 L139.13,151.77 L139.47,151.4 L139.78,151.03 L140.05,150.65 L140.32,150.25 L140.58,149.84 L140.84,149.42 L141.08,148.98 L141.32,148.54 L141.55,148.09 L141.78,147.62 L142,147.16 L142.21,146.68 L142.42,146.2 L142.62,145.71 L142.81,145.22 L143,144.72 L143.18,144.22 L143.36,143.72 L143.54,143.22 L143.7,142.71 L143.87,142.21 L144.03,141.71 L144.19,141.21 L144.34,140.71 L144.49,140.22 L144.63,139.73 L144.77,139.24 L144.91,138.76 L145.05,138.27 L145.18,137.78 L145.31,137.29 L145.44,136.8 L145.56,136.3 L145.68,135.81 L145.8,135.31 L145.92,134.82 L146.03,134.32 L146.14,133.82 L146.25,133.32 L146.36,132.82 L146.47,132.32 L146.57,131.81 L146.68,131.31 L146.78,130.81 L146.88,130.3 L146.98,129.8 L147.07,129.29 L147.17,128.78 L147.27,128.28 L147.36,127.77 L147.46,127.27 L147.55,126.76 L147.65,126.25 L147.74,125.74 L147.83,125.24 L147.93,124.73 L148.02,124.22 L148.11,123.72 L148.21,123.21 L148.3,122.7 L148.4,122.2 L148.49,121.69 L148.59,121.19 L148.69,120.69 L148.78,120.18 L148.88,119.68 L148.98,119.18 L149.08,118.67 L149.18,118.17 L149.28,117.67 L149.38,117.17 L149.48,116.66 L149.58,116.16 L149.68,115.66 L149.78,115.15 L149.88,114.65 L149.98,114.15 L150.08,113.65 L150.18,113.14 L150.27,112.64 L150.37,112.14 L150.47,111.63 L150.57,111.13 L150.66,110.63 L150.76,110.12 L150.86,109.62 L150.95,109.12 L151.05,108.61 L151.15,108.11 L151.24,107.61 L151.34,107.1 L151.43,106.6 L151.53,106.09 L151.62,105.59 L151.72,105.09 L151.81,104.58 L151.9,104.08 L152,103.58 L152.09,103.07 L152.18,102.57 L152.28,102.06 L152.37,101.56 L152.46,101.06 L152.55,100.55 L152.64,100.05 L152.73,99.54 L152.83,99.04 L152.92,98.53 L153.01,98.03 L153.1,97.52 L153.19,97.02 L153.27,96.52 L153.36,96.01 L153.45,95.51 L153.54,95 L153.63,94.5 L153.71,93.99 L153.8,93.49 L153.88,92.98 L153.97,92.48 L154.05,91.97 L154.13,91.46 L154.21,90.96 L154.3,90.45 L154.38,89.95 L154.46,89.44 L154.54,88.93 L154.62,88.43 L154.7,87.92 L154.78,87.42 L154.86,86.91 L154.94,86.4 L155.02,85.9 L155.1,85.39 L155.18,84.88 L155.26,84.38 L155.34,83.87 L155.42,83.36 L155.5,82.86 L155.57,82.35 L155.65,81.84 L155.73,81.34 L155.81,80.83 L155.89,80.33 L155.97,79.82 L156.05,79.31 L156.14,78.81 L156.22,78.3 L156.3,77.8 L156.38,77.29 L156.46,76.78 L156.55,76.28 L156.63,75.77 L156.72,75.27 L156.8,74.76 L156.89,74.26 L156.98,73.75 L157.06,73.25 L157.15,72.74 L157.24,72.24 L157.33,71.73 L157.42,71.23 L157.51,70.72 L157.6,70.22 L157.69,69.72 L157.79,69.21 L157.88,68.71 L157.97,68.2 L158.06,67.7 L158.16,67.2 L158.25,66.69 L158.35,66.19 L158.45,65.68 L158.54,65.18 L158.64,64.68 L158.74,64.17 L158.84,63.67 L158.94,63.17 L159.04,62.67 L159.14,62.16 L159.25,61.66 L159.35,61.16 L159.46,60.66 L159.57,60.16 L159.67,59.66 L159.78,59.16 L159.89,58.66 L160.01,58.16 L160.12,57.66 L160.24,57.16 L160.35,56.66 L160.47,56.16 L160.59,55.66 L160.71,55.17 L160.83,54.67 L160.95,54.17 L161.08,53.67 L161.2,53.17 L161.33,52.68 L161.45,52.18 L161.58,51.68 L161.71,51.19 L161.84,50.69 L161.97,50.2 L162.1,49.7" fill="none" stroke="#84a695" stroke-width="0.8"/>
<rect x="39.8" y="157" width="2.4" height="2.4" fill="#fff" stroke="#84a695" stroke-width="0.8"/>
<rect x="43.1" y="157" width="2.4" height="2.4" fill="#fff" stroke="#84a695" stroke-width="0.8"/>
<rect x="46.4" y="157" width="2.4" height="2.4" fill="#fff" stroke="#84a695" stroke-width="0.8"/>
<rect x="49.7" y="157" width="2.4" height="2.4" fill="#fff" stroke="#84a695" stroke-width="0.8"/>
<rect x="53" y="157" width="2.4" height="2.4" fill="#fff" stroke="#84a695" stroke-width="0.8"/>
<rect x="56.3" y="156.99" width="2.4" height="2.4" fill="#fff" stroke="#84a695" stroke-width="0.8"/>
<rect x="59.6" y="156.99" width="2.4" height="2.4" fill="#fff" stroke="#84a695" stroke-width="0.8"/>
<rect x="62.9" y="156.99" width="2.4" height="2.4" fill="#fff" stroke="#84a695" stroke-width="0.8"/>
<rect x="66.2" y="156.98" width="2.4" height="2.4" fill="#fff" stroke="#84a695" stroke-width="0.8"/>
<rect x="69.5" y="156.98" width="2.4" height="2.4" fill="#fff" stroke="#84a695" stroke-width="0.8"/>
<rect x="72.8" y="156.97" width="2.4" height="2.4" fill="#fff" stroke="#84a695" stroke-width="0.8"/>
<rect x="76.1" y="156.96" width="2.4" height="2.4" fill="#fff" stroke="#84a695" stroke-width="0.8"/>
<rect x="79.4" y="156.96" width="2.4" height="2.4" fill="#fff" stroke="#84a695" stroke-width="0.8"/>
<rect x="82.7" y="156.95" width="2.4" height="2.4" fill="#fff" stroke="#84a695" stroke-width="0.8"/>
<rect x="86" y="156.94" width="2.4" height="2.4" fill="#fff" stroke="#84a695" stroke-width="0.8"/>
<rect x="89.3" y="156.93" width="2.4" height="2.4" fill="#fff" stroke="#84a695" stroke-width="0.8"/>
<rect x="92.6" y="156.92" width="2.4" height="2.4" fill="#fff" stroke="#84a695" stroke-width="0.8"/>
<rect x="95.9" y="156.91" width="2.4" height="2.4" fill="#fff" stroke="#84a695" stroke-width="0.8"/>
<rect x="99.2" y="156.9" width="2.4" height="2.4" fill="#fff" stroke="#84a695" stroke-width="0.8"/>
<rect x="102.5" y="156.87" width="2.4" height="2.4" fill="#fff" stroke="#84a695" stroke-width="0.8"/>
<rect x="105.8" y="156.83" width="2.4" height="2.4" fill="#fff" stroke="#84a695" stroke-width="0.8"/>
<rect x="109.1" y="156.77" width="2.4" height="2.4" fill="#fff" stroke="#84a695" stroke-width="0.8"/>
<rect x="112.4" y="156.7" width="2.4" height="2.4" fill="#fff" stroke="#84a695" stroke-width="0.8"/>
<rect x="115.7" y="156.6" width="2.4" height="2.4" fill="#fff" stroke="#84a695" stroke-width="0.8"/>
<rect x="118.99" y="156.49" width="2.4" height="2.4" fill="#fff" stroke="#84a695" stroke-width="0.8"/>
<rect x="122.29" y="156.3" width="2.4" height="2.4" fill="#fff" stroke="#84a695" stroke-width="0.8"/>
<rect x="125.57" y="155.96" width="2.4" height="2.4" fill="#fff" stroke="#84a695" stroke-width="0.8"/>
<rect x="128.82" y="155.38" width="2.4" height="2.4" fill="#fff" stroke="#84a695" stroke-width="0.8"/>
<rect x="131.95" y="154.34" width="2.4" height="2.4" fill="#fff" stroke="#84a695" stroke-width="0.8"/>
<rect x="134.89" y="152.86" width="2.4" height="2.4" fill="#fff" stroke="#84a695" stroke-width="0.8"/>
<rect x="137.56" y="150.92" width="2.4" height="2.4" fill="#fff" stroke="#84a695" stroke-width="0.8"/>
<rect x="139.57" y="148.33" width="2.4" height="2.4" fill="#fff" stroke="#84a695" stroke-width="0.8"/>
<rect x="141.05" y="145.38" width="2.4" height="2.4" fill="#fff" stroke="#84a695" stroke-width="0.8"/>
<rect x="142.24" y="142.3" width="2.4" height="2.4" fill="#fff" stroke="#84a695" stroke-width="0.8"/>
<rect x="143.25" y="139.16" width="2.4" height="2.4" fill="#fff" stroke="#84a695" stroke-width="0.8"/>
<rect x="144.14" y="135.98" width="2.4" height="2.4" fill="#fff" stroke="#84a695" stroke-width="0.8"/>
<rect x="144.91" y="132.77" width="2.4" height="2.4" fill="#fff" stroke="#84a695" stroke-width="0.8"/>
<rect x="145.59" y="129.54" width="2.4" height="2.4" fill="#fff" stroke="#84a695" stroke-width="0.8"/>
<rect x="146.21" y="126.3" width="2.4" height="2.4" fill="#fff" stroke="#84a695" stroke-width="0.8"/>
<rect x="146.81" y="123.06" width="2.4" height="2.4" fill="#fff" stroke="#84a695" stroke-width="0.8"/>
<rect x="147.42" y="119.82" width="2.4" height="2.4" fill="#fff" stroke="#84a695" stroke-width="0.8"/>
<rect x="148.06" y="116.58" width="2.4" height="2.4" fill="#fff" stroke="#84a695" stroke-width="0.8"/>
<rect x="148.7" y="113.34" width="2.4" height="2.4" fill="#fff" stroke="#84a695" stroke-width="0.8"/>
<rect x="149.33" y="110.1" width="2.4" height="2.4" fill="#fff" stroke="#84a695" stroke-width="0.8"/>
<rect x="149.95" y="106.86" width="2.4" height="2.4" fill="#fff" stroke="#84a695" stroke-width="0.8"/>
<rect x="150.57" y="103.62" width="2.4" height="2.4" fill="#fff" stroke="#84a695" stroke-width="0.8"/>
<rect x="151.17" y="100.37" width="2.4" height="2.4" fill="#fff" stroke="#84a695" stroke-width="0.8"/>
<rect x="151.75" y="97.13" width="2.4" height="2.4" fill="#fff" stroke="#84a695" stroke-width="0.8"/>
<rect x="152.33" y="93.88" width="2.4" height="2.4" fill="#fff" stroke="#84a695" stroke-width="0.8"/>
<rect x="152.87" y="90.62" width="2.4" height="2.4" fill="#fff" stroke="#84a695" stroke-width="0.8"/>
<rect x="153.4" y="87.36" width="2.4" height="2.4" fill="#fff" stroke="#84a695" stroke-width="0.8"/>
<rect x="153.91" y="84.1" width="2.4" height="2.4" fill="#fff" stroke="#84a695" stroke-width="0.8"/>
<rect x="154.42" y="80.84" width="2.4" height="2.4" fill="#fff" stroke="#84a695" stroke-width="0.8"/>
<rect x="154.94" y="77.58" width="2.4" height="2.4" fill="#fff" stroke="#84a695" stroke-width="0.8"/>
<rect x="155.47" y="74.33" width="2.4" height="2.4" fill="#fff" stroke="#84a695" stroke-width="0.8"/>
<rect x="156.03" y="71.08" width="2.4" height="2.4" fill="#fff" stroke="#84a695" stroke-width="0.8"/>
<rect x="156.62" y="67.83" width="2.4" height="2.4" fill="#fff" stroke="#84a695" stroke-width="0.8"/>
<rect x="157.23" y="64.58" width="2.4" height="2.4" fill="#fff" stroke="#84a695" stroke-width="0.8"/>
<rect x="157.87" y="61.35" width="2.4" height="2.4" fill="#fff" stroke="#84a695" stroke-width="0.8"/>
<rect x="158.55" y="58.12" width="2.4" height="2.4" fill="#fff" stroke="#84a695" stroke-width="0.8"/>
<rect x="159.28" y="54.9" width="2.4" height="2.4" fill="#fff" stroke="#84a695" stroke-width="0.8"/>
<rect x="160.07" y="51.7" width="2.4" height="2.4" fill="#fff" stroke="#84a695" stroke-width="0.8"/>
<rect x="160.9" y="48.5" width="2.4" height="2.4" fill="#fff" stroke="#84a695" stroke-width="0.8"/>
<path d="M41,156.9 L41.52,156.9 L42.04,156.9 L42.56,156.9 L43.08,156.9 L43.6,156.9 L44.11,156.9 L44.63,156.9 L45.15,156.9 L45.67,156.9 L46.19,156.9 L46.71,156.9 L47.23,156.9 L47.75,156.9 L48.27,156.9 L48.79,156.9 L49.3,156.9 L49.82,156.9 L50.34,156.9 L50.86,156.9 L51.38,156.9 L51.9,156.89 L52.42,156.89 L52.94,156.89 L53.46,156.89 L53.98,156.89 L54.5,156.89 L55.01,156.89 L55.53,156.89 L56.05,156.89 L56.57,156.89 L57.09,156.89 L57.61,156.89 L58.13,156.89 L58.65,156.89 L59.17,156.89 L59.69,156.88 L60.2,156.88 L60.72,156.88 L61.24,156.88 L61.76,156.88 L62.28,156.88 L62.8,156.88 L63.32,156.88 L63.84,156.88 L64.36,156.88 L64.88,156.88 L65.39,156.87 L65.91,156.87 L66.43,156.87 L66.95,156.87 L67.47,156.87 L67.99,156.87 L68.51,156.87 L69.03,156.87 L69.55,156.86 L70.07,156.86 L70.59,156.86 L71.1,156.86 L71.62,156.86 L72.14,156.86 L72.66,156.86 L73.18,156.86 L73.7,156.85 L74.22,156.85 L74.74,156.85 L75.26,156.85 L75.78,156.85 L76.29,156.85 L76.81,156.85 L77.33,156.84 L77.85,156.84 L78.37,156.84 L78.89,156.84 L79.41,156.84 L79.93,156.84 L80.45,156.83 L80.97,156.83 L81.48,156.83 L82,156.83 L82.52,156.83 L83.04,156.83 L83.56,156.82 L84.08,156.82 L84.6,156.82 L85.12,156.82 L85.64,156.82 L86.16,156.81 L86.67,156.81 L87.19,156.81 L87.71,156.81 L88.23,156.81 L88.75,156.8 L89.27,156.8 L89.79,156.8 L90.31,156.8 L90.83,156.8 L91.35,156.79 L91.86,156.79 L92.38,156.79 L92.9,156.79 L93.42,156.78 L93.94,156.78 L94.46,156.78 L94.98,156.77 L95.5,156.77 L96.02,156.77 L96.54,156.76 L97.06,156.76 L97.58,156.75 L98.1,156.75 L98.62,156.74 L99.14,156.74 L99.66,156.73 L100.18,156.72 L100.69,156.72 L101.21,156.71 L101.73,156.7 L102.25,156.7 L102.77,156.69 L103.29,156.68 L103.81,156.67 L104.33,156.67 L104.85,156.66 L105.37,156.65 L105.89,156.64 L106.4,156.63 L106.92,156.62 L107.44,156.61 L107.96,156.6 L108.48,156.59 L109,156.57 L109.52,156.56 L110.03,156.55 L110.55,156.54 L111.07,156.52 L111.59,156.51 L112.1,156.5 L112.62,156.48 L113.14,156.45 L113.66,156.42 L114.18,156.39 L114.7,156.35 L115.22,156.3 L115.73,156.25 L116.25,156.19 L116.77,156.13 L117.29,156.07 L117.8,156.01 L118.32,155.94 L118.83,155.87 L119.34,155.8 L119.85,155.72 L120.36,155.64 L120.88,155.56 L121.39,155.46 L121.91,155.35 L122.42,155.24 L122.93,155.11 L123.44,154.98 L123.94,154.83 L124.44,154.68 L124.93,154.52 L125.41,154.35 L125.88,154.17 L126.34,153.96 L126.81,153.73 L127.27,153.47 L127.72,153.18 L128.16,152.88 L128.58,152.57 L128.99,152.24 L129.38,151.91 L129.75,151.57 L130.11,151.21 L130.47,150.83 L130.82,150.44 L131.16,150.03 L131.48,149.6 L131.79,149.17 L132.09,148.73 L132.36,148.29 L132.62,147.84 L132.85,147.4 L133.07,146.95 L133.29,146.49 L133.49,146.03 L133.69,145.56 L133.89,145.09 L134.08,144.61 L134.26,144.13 L134.44,143.64 L134.61,143.15 L134.78,142.65 L134.94,142.15 L135.1,141.65 L135.26,141.15 L135.41,140.64 L135.56,140.13 L135.7,139.63 L135.85,139.12 L135.98,138.61 L136.12,138.1 L136.26,137.59 L136.39,137.08 L136.52,136.58 L136.65,136.07 L136.78,135.57 L136.91,135.07 L137.04,134.57 L137.16,134.07 L137.28,133.57 L137.4,133.06 L137.52,132.56 L137.64,132.06 L137.75,131.55 L137.87,131.04 L137.98,130.54 L138.09,130.03 L138.2,129.52 L138.31,129.02 L138.42,128.51 L138.52,128 L138.63,127.49 L138.73,126.98 L138.83,126.47 L138.93,125.96 L139.03,125.45 L139.13,124.94 L139.23,124.43 L139.33,123.92 L139.42,123.41 L139.52,122.9 L139.61,122.38 L139.71,121.87 L139.8,121.36 L139.89,120.85 L139.99,120.34 L140.08,119.82 L140.17,119.31 L140.26,118.8 L140.35,118.29 L140.44,117.78 L140.53,117.27 L140.62,116.75 L140.71,116.24 L140.79,115.73 L140.88,115.22 L140.97,114.71 L141.06,114.2 L141.14,113.69 L141.23,113.18 L141.32,112.66 L141.4,112.15 L141.49,111.64 L141.57,111.13 L141.65,110.62 L141.74,110.1 L141.82,109.59 L141.9,109.08 L141.98,108.57 L142.06,108.05 L142.14,107.54 L142.22,107.03 L142.3,106.51 L142.38,106 L142.46,105.49 L142.54,104.97 L142.61,104.46 L142.69,103.95 L142.77,103.43 L142.84,102.92 L142.92,102.41 L142.99,101.89 L143.07,101.38 L143.15,100.87 L143.22,100.35 L143.29,99.84 L143.37,99.32 L143.44,98.81 L143.52,98.3 L143.59,97.78 L143.66,97.27 L143.73,96.75 L143.81,96.24 L143.88,95.73 L143.95,95.21 L144.02,94.7 L144.09,94.18 L144.17,93.67 L144.24,93.16 L144.31,92.64 L144.38,92.13 L144.45,91.61 L144.52,91.1 L144.59,90.58 L144.66,90.07 L144.73,89.56 L144.8,89.04 L144.87,88.53 L144.94,88.01 L145.01,87.5 L145.08,86.98 L145.15,86.47 L145.22,85.96 L145.28,85.44 L145.35,84.93 L145.42,84.41 L145.49,83.9 L145.55,83.38 L145.62,82.87 L145.68,82.35 L145.75,81.84 L145.82,81.32 L145.88,80.81 L145.95,80.29 L146.01,79.78 L146.08,79.26 L146.14,78.75 L146.2,78.23 L146.27,77.72 L146.33,77.2 L146.4,76.69 L146.46,76.17 L146.52,75.66 L146.59,75.14 L146.65,74.63 L146.71,74.11 L146.78,73.6 L146.84,73.08 L146.9,72.57 L146.96,72.05 L147.03,71.54 L147.09,71.02 L147.15,70.51 L147.22,69.99 L147.28,69.47 L147.34,68.96 L147.4,68.44 L147.47,67.93 L147.53,67.41 L147.59,66.9 L147.65,66.38 L147.72,65.87 L147.78,65.35 L147.84,64.84 L147.9,64.32 L147.97,63.81 L148.03,63.29 L148.09,62.78 L148.15,62.26 L148.21,61.75 L148.28,61.23 L148.34,60.72 L148.4,60.2 L148.46,59.68 L148.52,59.17 L148.59,58.65 L148.65,58.14 L148.71,57.62 L148.77,57.11 L148.83,56.59 L148.89,56.08 L148.95,55.56 L149.02,55.05 L149.08,54.53 L149.14,54.02 L149.2,53.5 L149.26,52.98 L149.32,52.47 L149.38,51.95 L149.44,51.44 L149.5,50.92 L149.56,50.41 L149.62,49.89 L149.68,49.38 L149.74,48.86 L149.8,48.34 L149.86,47.83 L149.92,47.31 L149.98,46.8 L150.04,46.28 L150.1,45.77 L150.16,45.25 L150.22,44.74 L150.28,44.22 L150.34,43.7 L150.4,43.19 L150.46,42.67 L150.52,42.16 L150.57,41.64 L150.63,41.13 L150.69,40.61 L150.75,40.09 L150.81,39.58 L150.87,39.06 L150.93,38.55 L150.98,38.03 L151.04,37.52 L151.1,37" fill="none" stroke="#f2707a" stroke-width="0.8"/>
<path d="M39.3,157.89 L42.7,157.89 L41,154.93 Z" fill="#fbd4d4" stroke="#f2707a" stroke-width="0.8"/>
<path d="M42.6,157.89 L46,157.89 L44.3,154.93 Z" fill="#fbd4d4" stroke="#f2707a" stroke-width="0.8"/>
<path d="M45.9,157.88 L49.3,157.88 L47.6,154.93 Z" fill="#fbd4d4" stroke="#f2707a" stroke-width="0.8"/>
<path d="M49.2,157.88 L52.6,157.88 L50.9,154.92 Z" fill="#fbd4d4" stroke="#f2707a" stroke-width="0.8"/>
<path d="M52.5,157.88 L55.9,157.88 L54.2,154.92 Z" fill="#fbd4d4" stroke="#f2707a" stroke-width="0.8"/>
<path d="M55.8,157.87 L59.2,157.87 L57.5,154.92 Z" fill="#fbd4d4" stroke="#f2707a" stroke-width="0.8"/>
<path d="M59.1,157.87 L62.5,157.87 L60.8,154.91 Z" fill="#fbd4d4" stroke="#f2707a" stroke-width="0.8"/>
<path d="M62.4,157.86 L65.8,157.86 L64.1,154.9 Z" fill="#fbd4d4" stroke="#f2707a" stroke-width="0.8"/>
<path d="M65.7,157.86 L69.1,157.86 L67.4,154.9 Z" fill="#fbd4d4" stroke="#f2707a" stroke-width="0.8"/>
<path d="M69,157.85 L72.4,157.85 L70.7,154.89 Z" fill="#fbd4d4" stroke="#f2707a" stroke-width="0.8"/>
<path d="M72.3,157.84 L75.7,157.84 L74,154.88 Z" fill="#fbd4d4" stroke="#f2707a" stroke-width="0.8"/>
<path d="M75.6,157.83 L79,157.83 L77.3,154.87 Z" fill="#fbd4d4" stroke="#f2707a" stroke-width="0.8"/>
<path d="M78.9,157.82 L82.3,157.82 L80.6,154.86 Z" fill="#fbd4d4" stroke="#f2707a" stroke-width="0.8"/>
<path d="M82.2,157.81 L85.6,157.81 L83.9,154.85 Z" fill="#fbd4d4" stroke="#f2707a" stroke-width="0.8"/>
<path d="M85.5,157.8 L88.9,157.8 L87.2,154.84 Z" fill="#fbd4d4" stroke="#f2707a" stroke-width="0.8"/>
<path d="M88.8,157.78 L92.2,157.78 L90.5,154.83 Z" fill="#fbd4d4" stroke="#f2707a" stroke-width="0.8"/>
<path d="M92.1,157.77 L95.5,157.77 L93.8,154.81 Z" fill="#fbd4d4" stroke="#f2707a" stroke-width="0.8"/>
<path d="M95.4,157.74 L98.8,157.74 L97.1,154.78 Z" fill="#fbd4d4" stroke="#f2707a" stroke-width="0.8"/>
<path d="M98.7,157.71 L102.1,157.71 L100.4,154.75 Z" fill="#fbd4d4" stroke="#f2707a" stroke-width="0.8"/>
<path d="M102,157.66 L105.4,157.66 L103.7,154.7 Z" fill="#fbd4d4" stroke="#f2707a" stroke-width="0.8"/>
<path d="M105.3,157.6 L108.7,157.6 L107,154.65 Z" fill="#fbd4d4" stroke="#f2707a" stroke-width="0.8"/>
<path d="M108.6,157.53 L112,157.53 L110.3,154.57 Z" fill="#fbd4d4" stroke="#f2707a" stroke-width="0.8"/>
<path d="M111.9,157.41 L115.3,157.41 L113.6,154.45 Z" fill="#fbd4d4" stroke="#f2707a" stroke-width="0.8"/>
<path d="M115.18,157.11 L118.58,157.11 L116.88,154.15 Z" fill="#fbd4d4" stroke="#f2707a" stroke-width="0.8"/>
<path d="M118.45,156.66 L121.85,156.66 L120.15,153.7 Z" fill="#fbd4d4" stroke="#f2707a" stroke-width="0.8"/>
<path d="M121.68,155.98 L125.08,155.98 L123.38,153.02 Z" fill="#fbd4d4" stroke="#f2707a" stroke-width="0.8"/>
<path d="M124.78,154.88 L128.18,154.88 L126.48,151.92 Z" fill="#fbd4d4" stroke="#f2707a" stroke-width="0.8"/>
<path d="M127.51,153.04 L130.91,153.04 L129.21,150.08 Z" fill="#fbd4d4" stroke="#f2707a" stroke-width="0.8"/>
<path d="M129.75,150.62 L133.15,150.62 L131.45,147.67 Z" fill="#fbd4d4" stroke="#f2707a" stroke-width="0.8"/>
<path d="M131.44,147.79 L134.84,147.79 L133.14,144.84 Z" fill="#fbd4d4" stroke="#f2707a" stroke-width="0.8"/>
<path d="M132.69,144.74 L136.09,144.74 L134.39,141.79 Z" fill="#fbd4d4" stroke="#f2707a" stroke-width="0.8"/>
<path d="M133.72,141.61 L137.12,141.61 L135.42,138.65 Z" fill="#fbd4d4" stroke="#f2707a" stroke-width="0.8"/>
<path d="M134.6,138.43 L138,138.43 L136.3,135.47 Z" fill="#fbd4d4" stroke="#f2707a" stroke-width="0.8"/>
<path d="M135.42,135.23 L138.82,135.23 L137.12,132.27 Z" fill="#fbd4d4" stroke="#f2707a" stroke-width="0.8"/>
<path d="M136.17,132.02 L139.57,132.02 L137.87,129.06 Z" fill="#fbd4d4" stroke="#f2707a" stroke-width="0.8"/>
<path d="M136.86,128.79 L140.26,128.79 L138.56,125.83 Z" fill="#fbd4d4" stroke="#f2707a" stroke-width="0.8"/>
<path d="M137.5,125.55 L140.9,125.55 L139.2,122.6 Z" fill="#fbd4d4" stroke="#f2707a" stroke-width="0.8"/>
<path d="M138.11,122.31 L141.51,122.31 L139.81,119.35 Z" fill="#fbd4d4" stroke="#f2707a" stroke-width="0.8"/>
<path d="M138.69,119.06 L142.09,119.06 L140.39,116.1 Z" fill="#fbd4d4" stroke="#f2707a" stroke-width="0.8"/>
<path d="M139.25,115.81 L142.65,115.81 L140.95,112.85 Z" fill="#fbd4d4" stroke="#f2707a" stroke-width="0.8"/>
<path d="M139.8,112.56 L143.2,112.56 L141.5,109.6 Z" fill="#fbd4d4" stroke="#f2707a" stroke-width="0.8"/>
<path d="M140.32,109.3 L143.72,109.3 L142.02,106.34 Z" fill="#fbd4d4" stroke="#f2707a" stroke-width="0.8"/>
<path d="M140.82,106.04 L144.22,106.04 L142.52,103.08 Z" fill="#fbd4d4" stroke="#f2707a" stroke-width="0.8"/>
<path d="M141.31,102.77 L144.71,102.77 L143.01,99.81 Z" fill="#fbd4d4" stroke="#f2707a" stroke-width="0.8"/>
<path d="M141.78,99.51 L145.18,99.51 L143.48,96.55 Z" fill="#fbd4d4" stroke="#f2707a" stroke-width="0.8"/>
<path d="M142.25,96.24 L145.65,96.24 L143.95,93.28 Z" fill="#fbd4d4" stroke="#f2707a" stroke-width="0.8"/>
<path d="M142.7,92.97 L146.1,92.97 L144.4,90.01 Z" fill="#fbd4d4" stroke="#f2707a" stroke-width="0.8"/>
<path d="M143.15,89.7 L146.55,89.7 L144.85,86.74 Z" fill="#fbd4d4" stroke="#f2707a" stroke-width="0.8"/>
<path d="M143.58,86.43 L146.98,86.43 L145.28,83.47 Z" fill="#fbd4d4" stroke="#f2707a" stroke-width="0.8"/>
<path d="M144.01,83.16 L147.41,83.16 L145.71,80.2 Z" fill="#fbd4d4" stroke="#f2707a" stroke-width="0.8"/>
<path d="M144.42,79.88 L147.82,79.88 L146.12,76.92 Z" fill="#fbd4d4" stroke="#f2707a" stroke-width="0.8"/>
<path d="M144.83,76.61 L148.23,76.61 L146.53,73.65 Z" fill="#fbd4d4" stroke="#f2707a" stroke-width="0.8"/>
<path d="M145.23,73.33 L148.63,73.33 L146.93,70.37 Z" fill="#fbd4d4" stroke="#f2707a" stroke-width="0.8"/>
<path d="M145.63,70.06 L149.03,70.06 L147.33,67.1 Z" fill="#fbd4d4" stroke="#f2707a" stroke-width="0.8"/>
<path d="M146.02,66.78 L149.42,66.78 L147.72,63.82 Z" fill="#fbd4d4" stroke="#f2707a" stroke-width="0.8"/>
<path d="M146.42,63.5 L149.82,63.5 L148.12,60.55 Z" fill="#fbd4d4" stroke="#f2707a" stroke-width="0.8"/>
<path d="M146.82,60.23 L150.22,60.23 L148.52,57.27 Z" fill="#fbd4d4" stroke="#f2707a" stroke-width="0.8"/>
<path d="M147.21,56.95 L150.61,56.95 L148.91,53.99 Z" fill="#fbd4d4" stroke="#f2707a" stroke-width="0.8"/>
<path d="M147.59,53.67 L150.99,53.67 L149.29,50.72 Z" fill="#fbd4d4" stroke="#f2707a" stroke-width="0.8"/>
<path d="M147.98,50.4 L151.38,50.4 L149.68,47.44 Z" fill="#fbd4d4" stroke="#f2707a" stroke-width="0.8"/>
<path d="M148.36,47.12 L151.76,47.12 L150.06,44.16 Z" fill="#fbd4d4" stroke="#f2707a" stroke-width="0.8"/>
<path d="M148.74,43.84 L152.14,43.84 L150.44,40.88 Z" fill="#fbd4d4" stroke="#f2707a" stroke-width="0.8"/>
<path d="M149.11,40.56 L152.51,40.56 L150.81,37.6 Z" fill="#fbd4d4" stroke="#f2707a" stroke-width="0.8"/>
</g>
<line x1="50" y1="35.3" x2="75.5" y2="35.3" stroke="#f2707a" stroke-width="1.1"/>
<circle cx="62.7" cy="35.3" r="1.4" fill="#fff" stroke="#f2707a" stroke-width="0.7"/>
<text x="78.4" y="39.2" font-size="10.9" text-anchor="start" >RhRu<tspan dy="2.8" font-size="8">3</tspan><tspan dy="-2.8">O</tspan><tspan dy="2.8" font-size="8">x</tspan></text>
<line x1="50" y1="51.35" x2="75.5" y2="51.35" stroke="#84a695" stroke-width="1.1"/>
<circle cx="62.7" cy="51.35" r="1.4" fill="#fff" stroke="#84a695" stroke-width="0.7"/>
<text x="78.4" y="55.25" font-size="10.9" text-anchor="start" >Hom-RuO<tspan dy="2.8" font-size="8">2</tspan></text>
<line x1="50" y1="67.4" x2="75.5" y2="67.4" stroke="#d8c43c" stroke-width="1.1"/>
<circle cx="62.7" cy="67.4" r="1.4" fill="#fff" stroke="#d8c43c" stroke-width="0.7"/>
<text x="78.4" y="71.3" font-size="10.9" text-anchor="start" >Com-RuO<tspan dy="2.8" font-size="8">2</tspan></text>
<path d="M291,125.4 L292.12,124.95 L293.25,124.5 L294.37,124.05 L295.5,123.61 L296.63,123.18 L297.76,122.74 L298.89,122.31 L300.02,121.89 L301.16,121.47 L302.3,121.06 L303.44,120.66 L304.58,120.25 L305.72,119.86 L306.86,119.46 L308.01,119.06 L309.15,118.67 L310.3,118.28 L311.44,117.89 L312.59,117.5 L313.73,117.11 L314.88,116.71 L316.02,116.32 L317.16,115.92 L318.31,115.52 L319.45,115.12 L320.6,114.73 L321.74,114.34 L322.89,113.95 L324.04,113.56 L325.19,113.17 L326.33,112.78 L327.48,112.38 L328.62,111.98 L329.76,111.58 L330.9,111.16 L332.03,110.75 L333.16,110.32 L334.29,109.88 L335.41,109.44 L336.53,108.98 L337.64,108.52 L338.75,108.04 L339.87,107.56 L340.97,107.07 L342.08,106.58 L343.18,106.08 L344.28,105.57 L345.38,105.06 L346.48,104.54 L347.57,104.02 L348.66,103.49 L349.75,102.96 L350.84,102.42 L351.92,101.89 L353,101.35 L354.08,100.8 L355.15,100.25 L356.23,99.68 L357.29,99.11 L358.36,98.53 L359.42,97.95 L360.48,97.36 L361.53,96.77 L362.58,96.17 L363.63,95.57 L364.68,94.96 L365.73,94.36 L366.78,93.74 L367.82,93.12 L368.85,92.5 L369.89,91.86 L370.91,91.22 L371.93,90.57 L372.94,89.91 L373.94,89.23 L374.94,88.55 L375.94,87.86 L376.93,87.16 L377.91,86.44 L378.88,85.71 L379.83,84.96 L380.76,84.2 L381.67,83.42 L382.56,82.61 L383.44,81.77 L384.3,80.92 L385.15,80.06 L386,79.19 L386.84,78.31 L387.69,77.44 L388.53,76.57 L389.38,75.71 L390.24,74.85 L391.1,74 L391.96,73.14 L392.81,72.29 L393.67,71.43 L394.53,70.57 L395.38,69.71 L396.23,68.84 L397.07,67.97 L397.91,67.1 L398.74,66.22 L399.56,65.33 L400.37,64.43 L401.17,63.53 L401.95,62.62 L402.73,61.7 L403.5,60.77 L404.27,59.83 L405.02,58.89 L405.77,57.94 L406.51,56.98 L407.24,56.02 L407.97,55.05 L408.69,54.07 L409.4,53.08 L410.1,52.1 L410.8,51.1" fill="none" stroke="#d8c43c" stroke-width="1.2"/>
<path d="M310.3,131.1 L311.2,130.83 L312.09,130.56 L312.99,130.3 L313.88,130.03 L314.78,129.76 L315.68,129.49 L316.57,129.22 L317.47,128.96 L318.36,128.69 L319.26,128.42 L320.15,128.15 L321.05,127.88 L321.95,127.61 L322.84,127.34 L323.74,127.07 L324.63,126.8 L325.53,126.53 L326.42,126.26 L327.32,125.99 L328.21,125.72 L329.11,125.45 L330,125.18 L330.9,124.91 L331.79,124.64 L332.69,124.36 L333.58,124.09 L334.48,123.82 L335.37,123.55 L336.27,123.28 L337.16,123 L338.06,122.73 L338.95,122.46 L339.85,122.19 L340.74,121.92 L341.64,121.65 L342.53,121.38 L343.43,121.11 L344.32,120.84 L345.22,120.58 L346.12,120.32 L347.02,120.06 L347.92,119.8 L348.82,119.55 L349.72,119.29 L350.62,119.04 L351.52,118.78 L352.42,118.53 L353.32,118.27 L354.22,118.01 L355.12,117.74 L356.01,117.47 L356.9,117.2 L357.8,116.92 L358.68,116.64 L359.57,116.34 L360.45,116.04 L361.33,115.73 L362.21,115.41 L363.08,115.07 L363.95,114.73 L364.82,114.38 L365.69,114.04 L366.56,113.69 L367.43,113.35 L368.31,113.01 L369.18,112.68 L370.06,112.36 L370.94,112.04 L371.82,111.73 L372.7,111.42 L373.59,111.11 L374.47,110.81 L375.35,110.5 L376.24,110.2 L377.12,109.9 L378.01,109.59 L378.89,109.29 L379.78,108.98 L380.66,108.68 L381.54,108.37 L382.43,108.06 L383.31,107.75 L384.19,107.45 L385.08,107.14 L385.97,106.84 L386.86,106.54 L387.75,106.24 L388.63,105.94 L389.52,105.64 L390.41,105.33 L391.29,105.02 L392.17,104.7 L393.04,104.37 L393.91,104.03 L394.77,103.69 L395.63,103.33 L396.49,102.96 L397.34,102.58 L398.19,102.19 L399.03,101.78 L399.87,101.37 L400.71,100.95 L401.55,100.51 L402.38,100.07 L403.2,99.62 L404.02,99.17 L404.83,98.71 L405.64,98.24 L406.43,97.76 L407.23,97.27 L408.01,96.77 L408.79,96.26 L409.57,95.74 L410.34,95.21 L411.1,94.66 L411.86,94.11 L412.61,93.55 L413.36,92.98 L414.1,92.4" fill="none" stroke="#84a695" stroke-width="1.2"/>
<path d="M322.3,139.37 L323.12,138.25 L323.95,138.49 L324.77,138.02 L325.6,137.75 L326.42,137.51 L327.25,136.89 L328.08,136.93 L328.9,136.53 L329.73,136.99 L330.56,136.15 L331.38,135.76 L332.21,135.49 L333.04,135.14 L333.87,134.79 L334.7,134.63 L335.52,134.51 L336.35,134.1 L337.18,134.04 L338.01,133.56 L338.84,133.33 L339.67,133.33 L340.51,132.87 L341.34,132.41 L342.17,132.2 L343,132.06 L343.83,132.04 L344.66,131.38 L345.5,131.11 L346.33,131.07 L347.16,130.46 L347.99,130.3 L348.83,130.24 L349.66,129.92 L350.49,129.56 L351.32,129.4 L352.16,128.5 L352.99,128.93 L353.82,128.3 L354.66,127.91 L355.49,128 L356.33,127.81 L357.16,127.34 L357.99,126.96 L358.83,126.89 L359.66,126.61 L360.48,126.59 L361.31,126.19 L362.14,125.8 L362.96,125.68 L363.79,125.15 L364.61,124.72 L365.43,124.7 L366.26,124.4 L367.08,123.96 L367.9,123.56 L368.72,123.44 L369.54,122.65 L370.37,122.93 L371.19,122.59 L372.01,121.91 L372.84,121.93 L373.66,121.45 L374.48,121.47 L375.31,120.67 L376.13,120.58 L376.96,120.58 L377.78,120.36 L378.6,119.48 L379.43,119.48 L380.25,119.34 L381.08,118.88 L381.9,118.98 L382.73,118.19 L383.55,118.18 L384.38,117.63 L385.2,117.78 L386.03,117.24 L386.85,116.88 L387.68,116.35 L388.5,116.68 L389.33,116.23 L390.16,115.94 L390.98,115.72 L391.81,115.3 L392.64,114.83 L393.46,114.51 L394.29,114.22 L395.11,114.32 L395.94,113.52 L396.76,113.38 L397.58,113.13 L398.4,112.93 L399.22,112.69 L400.04,112.05 L400.86,111.66 L401.68,111.66 L402.49,111.57 L403.31,111.17 L404.13,110.77 L404.95,110.36 L405.77,110.17 L406.59,109.77 L407.41,109.66 L408.23,109.07 L409.06,108.94 L409.88,108.59 L410.7,108.4 L411.53,108.05 L412.36,108.2 L413.19,107.77 L414.04,107.55 L414.88,106.7 L415.73,106.8 L416.58,106.56 L417.44,106.59 L418.3,105.91 L419.16,106.37 L420.03,106.22 L420.9,105.67" fill="none" stroke="#f2707a" stroke-width="1.2"/>
<line x1="291" y1="125.2" x2="381" y2="93.2" stroke="#d8c43c" stroke-width="1.2" stroke-dasharray="5,3.5"/>
<line x1="310.3" y1="131.2" x2="410.5" y2="100.2" stroke="#84a695" stroke-width="1.1" stroke-dasharray="5,3.5"/>
<line x1="322.2" y1="139.0" x2="420" y2="106.6" stroke="#f2707a" stroke-width="1.0" stroke-dasharray="5,3.5"/>
<text x="295.8" y="98.6" font-size="10.5" text-anchor="start" >66.4 mV/dec</text>
<text x="387.7" y="90.1" font-size="10.5" text-anchor="start" >58.1 mV/dec</text>
<text x="348" y="141.2" font-size="10.5" text-anchor="start" >54.7 mV/dec</text>
<line x1="278.2" y1="32.4" x2="304.2" y2="32.4" stroke="#f2707a" stroke-width="1.2"/>
<text x="307" y="36.3" font-size="10.9" text-anchor="start" >RhRu<tspan dy="2.8" font-size="8">3</tspan><tspan dy="-2.8">O</tspan><tspan dy="2.8" font-size="8">x</tspan></text>
<line x1="278.2" y1="48.5" x2="304.2" y2="48.5" stroke="#84a695" stroke-width="1.2"/>
<text x="307" y="52.4" font-size="10.9" text-anchor="start" >Hom-RuO<tspan dy="2.8" font-size="8">2</tspan></text>
<line x1="278.2" y1="64.6" x2="304.2" y2="64.6" stroke="#d8c43c" stroke-width="1.2"/>
<text x="307" y="68.5" font-size="10.9" text-anchor="start" >Com-RuO<tspan dy="2.8" font-size="8">2</tspan></text>
<path d="M523,161 L523.4,159.4 L523.8,157.8 L524.1,156.3 L524.5,154.6 L524.9,153 L525.3,151.2 L525.8,149.4 L526.4,147.4 L527.2,145.3 L528.2,142.8 L529.3,137.4 L532.8,129.7 L537.9,119.5 L546.9,107 L561.6,94.1 L582.9,87.2 L605.9,91.5 L624.3,105.2 L635.6,120.7 L641.1,133.8" fill="none" stroke="#d8c43c" stroke-width="1.2"/>
<circle cx="523" cy="161" r="1.8" fill="#eee296" stroke="#d8c43c" stroke-width="0.7"/>
<circle cx="523.4" cy="159.4" r="1.8" fill="#eee296" stroke="#d8c43c" stroke-width="0.7"/>
<circle cx="523.8" cy="157.8" r="1.8" fill="#eee296" stroke="#d8c43c" stroke-width="0.7"/>
<circle cx="524.1" cy="156.3" r="1.8" fill="#eee296" stroke="#d8c43c" stroke-width="0.7"/>
<circle cx="524.5" cy="154.6" r="1.8" fill="#eee296" stroke="#d8c43c" stroke-width="0.7"/>
<circle cx="524.9" cy="153" r="1.8" fill="#eee296" stroke="#d8c43c" stroke-width="0.7"/>
<circle cx="525.3" cy="151.2" r="1.8" fill="#eee296" stroke="#d8c43c" stroke-width="0.7"/>
<circle cx="525.8" cy="149.4" r="1.8" fill="#eee296" stroke="#d8c43c" stroke-width="0.7"/>
<circle cx="526.4" cy="147.4" r="1.8" fill="#eee296" stroke="#d8c43c" stroke-width="0.7"/>
<circle cx="527.2" cy="145.3" r="1.8" fill="#eee296" stroke="#d8c43c" stroke-width="0.7"/>
<circle cx="528.2" cy="142.8" r="1.8" fill="#eee296" stroke="#d8c43c" stroke-width="0.7"/>
<circle cx="529.3" cy="137.4" r="1.8" fill="#eee296" stroke="#d8c43c" stroke-width="0.7"/>
<circle cx="532.8" cy="129.7" r="1.8" fill="#eee296" stroke="#d8c43c" stroke-width="0.7"/>
<circle cx="537.9" cy="119.5" r="1.8" fill="#eee296" stroke="#d8c43c" stroke-width="0.7"/>
<circle cx="546.9" cy="107" r="1.8" fill="#eee296" stroke="#d8c43c" stroke-width="0.7"/>
<circle cx="561.6" cy="94.1" r="1.8" fill="#eee296" stroke="#d8c43c" stroke-width="0.7"/>
<circle cx="582.9" cy="87.2" r="1.8" fill="#eee296" stroke="#d8c43c" stroke-width="0.7"/>
<circle cx="605.9" cy="91.5" r="1.8" fill="#eee296" stroke="#d8c43c" stroke-width="0.7"/>
<circle cx="624.3" cy="105.2" r="1.8" fill="#eee296" stroke="#d8c43c" stroke-width="0.7"/>
<circle cx="635.6" cy="120.7" r="1.8" fill="#eee296" stroke="#d8c43c" stroke-width="0.7"/>
<circle cx="641.1" cy="133.8" r="1.8" fill="#eee296" stroke="#d8c43c" stroke-width="0.7"/>
<path d="M525.8,160.6 L526.2,158.6 L526.7,156.4 L527.3,154.2 L528.2,151.6 L530,148.7 L533.5,145.5 L539.3,143.8 L545.2,145.5 L549.5,148.7 L551.9,152.5 L553.3,155.4" fill="none" stroke="#84a695" stroke-width="1.0"/>
<circle cx="525.8" cy="160.6" r="1.9" fill="#c4d6cc" stroke="#84a695" stroke-width="0.8"/>
<circle cx="526.2" cy="158.6" r="1.9" fill="#c4d6cc" stroke="#84a695" stroke-width="0.8"/>
<circle cx="526.7" cy="156.4" r="1.9" fill="#c4d6cc" stroke="#84a695" stroke-width="0.8"/>
<circle cx="527.3" cy="154.2" r="1.9" fill="#c4d6cc" stroke="#84a695" stroke-width="0.8"/>
<circle cx="528.2" cy="151.6" r="1.9" fill="#c4d6cc" stroke="#84a695" stroke-width="0.8"/>
<circle cx="530" cy="148.7" r="1.9" fill="#c4d6cc" stroke="#84a695" stroke-width="0.8"/>
<circle cx="533.5" cy="145.5" r="1.9" fill="#c4d6cc" stroke="#84a695" stroke-width="0.8"/>
<circle cx="539.3" cy="143.8" r="1.9" fill="#c4d6cc" stroke="#84a695" stroke-width="0.8"/>
<circle cx="545.2" cy="145.5" r="1.9" fill="#c4d6cc" stroke="#84a695" stroke-width="0.8"/>
<circle cx="549.5" cy="148.7" r="1.9" fill="#c4d6cc" stroke="#84a695" stroke-width="0.8"/>
<circle cx="551.9" cy="152.5" r="1.9" fill="#c4d6cc" stroke="#84a695" stroke-width="0.8"/>
<circle cx="553.3" cy="155.4" r="1.9" fill="#c4d6cc" stroke="#84a695" stroke-width="0.8"/>
<path d="M526.2,160.8 L526.6,159.6 L526.9,158.4 L527.4,156.9 L527.9,155.4 L528.5,153.7 L530.8,151.9 L533.2,151.6 L535.5,151.9 L537.9,153.1 L539.6,154.9 L540.8,156.6 L541.1,158.4" fill="none" stroke="#f2707a" stroke-width="0.9"/>
<circle cx="526.2" cy="160.8" r="1.5" fill="#fff" stroke="#f2707a" stroke-width="0.85"/>
<circle cx="526.6" cy="159.6" r="1.5" fill="#fff" stroke="#f2707a" stroke-width="0.85"/>
<circle cx="526.9" cy="158.4" r="1.5" fill="#fff" stroke="#f2707a" stroke-width="0.85"/>
<circle cx="527.4" cy="156.9" r="1.5" fill="#fff" stroke="#f2707a" stroke-width="0.85"/>
<circle cx="527.9" cy="155.4" r="1.5" fill="#fff" stroke="#f2707a" stroke-width="0.85"/>
<circle cx="528.5" cy="153.7" r="1.5" fill="#fff" stroke="#f2707a" stroke-width="0.85"/>
<circle cx="530.8" cy="151.9" r="1.5" fill="#fff" stroke="#f2707a" stroke-width="0.85"/>
<circle cx="533.2" cy="151.6" r="1.5" fill="#fff" stroke="#f2707a" stroke-width="0.85"/>
<circle cx="535.5" cy="151.9" r="1.5" fill="#fff" stroke="#f2707a" stroke-width="0.85"/>
<circle cx="537.9" cy="153.1" r="1.5" fill="#fff" stroke="#f2707a" stroke-width="0.85"/>
<circle cx="539.6" cy="154.9" r="1.5" fill="#fff" stroke="#f2707a" stroke-width="0.85"/>
<circle cx="540.8" cy="156.6" r="1.5" fill="#fff" stroke="#f2707a" stroke-width="0.85"/>
<circle cx="541.1" cy="158.4" r="1.5" fill="#fff" stroke="#f2707a" stroke-width="0.85"/>
<line x1="505.9" y1="35.1" x2="531.9" y2="35.1" stroke="#f2707a" stroke-width="1.1"/>
<circle cx="518.7" cy="35.1" r="1.5" fill="#fff" stroke="#f2707a" stroke-width="0.7"/>
<text x="534.2" y="39" font-size="10.9" text-anchor="start" >RhRu<tspan dy="2.8" font-size="8">3</tspan><tspan dy="-2.8">O</tspan><tspan dy="2.8" font-size="8">x</tspan></text>
<line x1="505.9" y1="51.2" x2="531.9" y2="51.2" stroke="#84a695" stroke-width="1.1"/>
<circle cx="518.7" cy="51.2" r="1.5" fill="#fff" stroke="#84a695" stroke-width="0.7"/>
<text x="534.2" y="55.1" font-size="10.9" text-anchor="start" >Hom-RuO<tspan dy="2.8" font-size="8">2</tspan></text>
<line x1="505.9" y1="67.3" x2="531.9" y2="67.3" stroke="#d8c43c" stroke-width="1.1"/>
<circle cx="518.7" cy="67.3" r="1.5" fill="#fff" stroke="#d8c43c" stroke-width="0.7"/>
<text x="534.2" y="71.2" font-size="10.9" text-anchor="start" >Com-RuO<tspan dy="2.8" font-size="8">2</tspan></text>
<defs><radialGradient id="gR" cx="0.38" cy="0.35" r="0.65"><stop offset="0" stop-color="#fff"/><stop offset="0.35" stop-color="#f7a0a6"/><stop offset="1" stop-color="#ee5f69"/></radialGradient><radialGradient id="gG" cx="0.38" cy="0.35" r="0.65"><stop offset="0" stop-color="#fff"/><stop offset="0.35" stop-color="#a9c2b6"/><stop offset="1" stop-color="#7a9a8b"/></radialGradient><radialGradient id="gY" cx="0.38" cy="0.35" r="0.65"><stop offset="0" stop-color="#fff"/><stop offset="0.35" stop-color="#e8d870"/><stop offset="1" stop-color="#d2b834"/></radialGradient></defs>
<circle cx="60.53" cy="345.2" r="2.6" fill="url(#gY)"/>
<circle cx="80.85" cy="341.62" r="2.6" fill="url(#gY)"/>
<circle cx="101.18" cy="338.21" r="2.6" fill="url(#gY)"/>
<circle cx="121.5" cy="335.32" r="2.6" fill="url(#gY)"/>
<circle cx="162.15" cy="328.87" r="2.6" fill="url(#gY)"/>
<circle cx="202.8" cy="322.6" r="2.6" fill="url(#gY)"/>
<circle cx="60.53" cy="337.29" r="2.6" fill="url(#gG)"/>
<circle cx="80.85" cy="327.2" r="2.6" fill="url(#gG)"/>
<circle cx="101.18" cy="316.81" r="2.6" fill="url(#gG)"/>
<circle cx="121.5" cy="306.72" r="2.6" fill="url(#gG)"/>
<circle cx="162.15" cy="285.59" r="2.6" fill="url(#gG)"/>
<circle cx="202.8" cy="265.49" r="2.6" fill="url(#gG)"/>
<circle cx="60.53" cy="331.29" r="2.6" fill="url(#gR)"/>
<circle cx="80.85" cy="315.72" r="2.6" fill="url(#gR)"/>
<circle cx="101.18" cy="299.19" r="2.6" fill="url(#gR)"/>
<circle cx="121.5" cy="282.49" r="2.6" fill="url(#gR)"/>
<circle cx="162.15" cy="251" r="2.6" fill="url(#gR)"/>
<circle cx="202.8" cy="219.61" r="2.6" fill="url(#gR)"/>
<line x1="60.53" y1="344.91" x2="204.43" y2="322.24" stroke="#d8c43c" stroke-width="1.3" stroke-dasharray="5,3.5"/>
<line x1="60.53" y1="337.4" x2="204.43" y2="264.52" stroke="#84a695" stroke-width="1.3" stroke-dasharray="5,4.5"/>
<line x1="60.53" y1="331.22" x2="204.43" y2="217.93" stroke="#f7792c" stroke-width="1.5" stroke-dasharray="6.5,3.5"/>
<circle cx="56" cy="216" r="2.6" fill="url(#gR)"/>
<text x="70.8" y="219.8" font-size="10.5" text-anchor="start" >RhRu<tspan dy="2.5" font-size="7.5">3</tspan><tspan dy="-2.5">O</tspan><tspan dy="2.5" font-size="7.5">x</tspan></text>
<circle cx="56" cy="231.35" r="2.6" fill="url(#gG)"/>
<text x="70.8" y="235.15" font-size="10.5" text-anchor="start" >Hom-RuO<tspan dy="2.5" font-size="7.5">2</tspan></text>
<circle cx="56" cy="246.7" r="2.6" fill="url(#gY)"/>
<text x="70.8" y="250.5" font-size="10.5" text-anchor="start" >Com-RuO<tspan dy="2.5" font-size="7.5">2</tspan></text>
<text x="218.7" y="213.9" font-size="10.5" text-anchor="end" >18.77 mF</text>
<text x="218.7" y="260" font-size="10.5" text-anchor="end" >12.03 mF</text>
<text x="218.7" y="317.3" font-size="10.5" text-anchor="end" >3.76 mF</text>
<defs><clipPath id="clipE"><rect x="270.8" y="203" width="179.7" height="143.2"/></clipPath></defs>
<g clip-path="url(#clipE)">
<path d="M281.8,316.9 L289.6,312.6 L309.8,308.1 L315.7,303.7 L328.3,299.5 L332.8,295 L342.2,290.8 L351.3,286.3 L361.6,281.8 L369.5,277.7 L378.4,273.6 L384.1,268.9 L392.8,264.6 L393.5,260.3 L402.2,255.6 L408.7,251.3 L412.9,247.2 L416.7,242.8 L420.8,238.5 L424.6,234.2 L428.7,229.8 L432.8,225.5 L436.6,221.1 L440.4,216.8 L442.8,212.5 L445.8,208.1 L448.5,204.3" fill="none" stroke="#14505f" stroke-width="1.1" stroke-dasharray="3.2,2.4"/>
<rect x="279.9" y="315" width="3.8" height="3.8" fill="#14505f" stroke="#14505f" stroke-width="0.1"/>
<rect x="287.7" y="310.7" width="3.8" height="3.8" fill="#14505f" stroke="#14505f" stroke-width="0.1"/>
<rect x="307.9" y="306.2" width="3.8" height="3.8" fill="#14505f" stroke="#14505f" stroke-width="0.1"/>
<rect x="313.8" y="301.8" width="3.8" height="3.8" fill="#14505f" stroke="#14505f" stroke-width="0.1"/>
<rect x="326.4" y="297.6" width="3.8" height="3.8" fill="#14505f" stroke="#14505f" stroke-width="0.1"/>
<rect x="330.9" y="293.1" width="3.8" height="3.8" fill="#14505f" stroke="#14505f" stroke-width="0.1"/>
<rect x="340.3" y="288.9" width="3.8" height="3.8" fill="#14505f" stroke="#14505f" stroke-width="0.1"/>
<rect x="349.4" y="284.4" width="3.8" height="3.8" fill="#14505f" stroke="#14505f" stroke-width="0.1"/>
<rect x="359.7" y="279.9" width="3.8" height="3.8" fill="#14505f" stroke="#14505f" stroke-width="0.1"/>
<rect x="367.6" y="275.8" width="3.8" height="3.8" fill="#14505f" stroke="#14505f" stroke-width="0.1"/>
<rect x="376.5" y="271.7" width="3.8" height="3.8" fill="#14505f" stroke="#14505f" stroke-width="0.1"/>
<rect x="382.2" y="267" width="3.8" height="3.8" fill="#14505f" stroke="#14505f" stroke-width="0.1"/>
<rect x="390.9" y="262.7" width="3.8" height="3.8" fill="#14505f" stroke="#14505f" stroke-width="0.1"/>
<rect x="391.6" y="258.4" width="3.8" height="3.8" fill="#14505f" stroke="#14505f" stroke-width="0.1"/>
<rect x="400.3" y="253.7" width="3.8" height="3.8" fill="#14505f" stroke="#14505f" stroke-width="0.1"/>
<rect x="406.8" y="249.4" width="3.8" height="3.8" fill="#14505f" stroke="#14505f" stroke-width="0.1"/>
<rect x="411" y="245.3" width="3.8" height="3.8" fill="#14505f" stroke="#14505f" stroke-width="0.1"/>
<rect x="414.8" y="240.9" width="3.8" height="3.8" fill="#14505f" stroke="#14505f" stroke-width="0.1"/>
<rect x="418.9" y="236.6" width="3.8" height="3.8" fill="#14505f" stroke="#14505f" stroke-width="0.1"/>
<rect x="422.7" y="232.3" width="3.8" height="3.8" fill="#14505f" stroke="#14505f" stroke-width="0.1"/>
<rect x="426.8" y="227.9" width="3.8" height="3.8" fill="#14505f" stroke="#14505f" stroke-width="0.1"/>
<rect x="430.9" y="223.6" width="3.8" height="3.8" fill="#14505f" stroke="#14505f" stroke-width="0.1"/>
<rect x="434.7" y="219.2" width="3.8" height="3.8" fill="#14505f" stroke="#14505f" stroke-width="0.1"/>
<rect x="438.5" y="214.9" width="3.8" height="3.8" fill="#14505f" stroke="#14505f" stroke-width="0.1"/>
<rect x="440.9" y="210.6" width="3.8" height="3.8" fill="#14505f" stroke="#14505f" stroke-width="0.1"/>
<rect x="443.9" y="206.2" width="3.8" height="3.8" fill="#14505f" stroke="#14505f" stroke-width="0.1"/>
<rect x="446.6" y="202.4" width="3.8" height="3.8" fill="#14505f" stroke="#14505f" stroke-width="0.1"/>
<path d="M293.4,321.1 L303.6,316.7 L312.3,312.6 L321.1,308.2 L331,303.9 L341,299.4 L349.5,295.1 L358.9,290.8 L366.6,286.3 L374.7,281.8 L382,277.9 L388.8,273.4 L394.7,268.9 L400.8,264.6 L405.8,260.3 L411.6,255.5 L416,251.4 L420.3,247.2 L424.6,242.8 L429,238.5 L432.8,234.2 L436.6,229.8 L440.4,225.5 L443.6,221.1 L446.9,216.8 L449,212.5 L451.5,208.2" fill="none" stroke="#106f8c" stroke-width="1.1" stroke-dasharray="3.2,2.4"/>
<circle cx="293.4" cy="321.1" r="2.2" fill="#106f8c"/>
<circle cx="303.6" cy="316.7" r="2.2" fill="#106f8c"/>
<circle cx="312.3" cy="312.6" r="2.2" fill="#106f8c"/>
<circle cx="321.1" cy="308.2" r="2.2" fill="#106f8c"/>
<circle cx="331" cy="303.9" r="2.2" fill="#106f8c"/>
<circle cx="341" cy="299.4" r="2.2" fill="#106f8c"/>
<circle cx="349.5" cy="295.1" r="2.2" fill="#106f8c"/>
<circle cx="358.9" cy="290.8" r="2.2" fill="#106f8c"/>
<circle cx="366.6" cy="286.3" r="2.2" fill="#106f8c"/>
<circle cx="374.7" cy="281.8" r="2.2" fill="#106f8c"/>
<circle cx="382" cy="277.9" r="2.2" fill="#106f8c"/>
<circle cx="388.8" cy="273.4" r="2.2" fill="#106f8c"/>
<circle cx="394.7" cy="268.9" r="2.2" fill="#106f8c"/>
<circle cx="400.8" cy="264.6" r="2.2" fill="#106f8c"/>
<circle cx="405.8" cy="260.3" r="2.2" fill="#106f8c"/>
<circle cx="411.6" cy="255.5" r="2.2" fill="#106f8c"/>
<circle cx="416" cy="251.4" r="2.2" fill="#106f8c"/>
<circle cx="420.3" cy="247.2" r="2.2" fill="#106f8c"/>
<circle cx="424.6" cy="242.8" r="2.2" fill="#106f8c"/>
<circle cx="429" cy="238.5" r="2.2" fill="#106f8c"/>
<circle cx="432.8" cy="234.2" r="2.2" fill="#106f8c"/>
<circle cx="436.6" cy="229.8" r="2.2" fill="#106f8c"/>
<circle cx="440.4" cy="225.5" r="2.2" fill="#106f8c"/>
<circle cx="443.6" cy="221.1" r="2.2" fill="#106f8c"/>
<circle cx="446.9" cy="216.8" r="2.2" fill="#106f8c"/>
<circle cx="449" cy="212.5" r="2.2" fill="#106f8c"/>
<circle cx="451.5" cy="208.2" r="2.2" fill="#106f8c"/>
<path d="M297.7,325.2 L307.2,320.8 L316.7,316.7 L330.6,312.3 L341.2,307.5 L348.6,303.4 L355.8,298.9 L369.3,294.6 L373.8,290.3 L382,286.1 L389.2,281.7 L396.4,277.6 L401.9,273.3 L407.3,268.9 L414.5,264.6 L418.7,259.9 L423.6,255.1 L427.9,250.6 L431.7,246.6 L436,242.6 L440.9,238 L444.2,233.6 L447.4,229.3 L449.8,225.2 L452.5,221" fill="none" stroke="#1a8a88" stroke-width="1.1" stroke-dasharray="3.2,2.4"/>
<path d="M295.1,326.71 L300.3,326.71 L297.7,322.18 Z" fill="#1a8a88" stroke="#1a8a88" stroke-width="0.1"/>
<path d="M304.6,322.31 L309.8,322.31 L307.2,317.78 Z" fill="#1a8a88" stroke="#1a8a88" stroke-width="0.1"/>
<path d="M314.1,318.21 L319.3,318.21 L316.7,313.68 Z" fill="#1a8a88" stroke="#1a8a88" stroke-width="0.1"/>
<path d="M328,313.81 L333.2,313.81 L330.6,309.28 Z" fill="#1a8a88" stroke="#1a8a88" stroke-width="0.1"/>
<path d="M338.6,309.01 L343.8,309.01 L341.2,304.48 Z" fill="#1a8a88" stroke="#1a8a88" stroke-width="0.1"/>
<path d="M346,304.91 L351.2,304.91 L348.6,300.38 Z" fill="#1a8a88" stroke="#1a8a88" stroke-width="0.1"/>
<path d="M353.2,300.41 L358.4,300.41 L355.8,295.88 Z" fill="#1a8a88" stroke="#1a8a88" stroke-width="0.1"/>
<path d="M366.7,296.11 L371.9,296.11 L369.3,291.58 Z" fill="#1a8a88" stroke="#1a8a88" stroke-width="0.1"/>
<path d="M371.2,291.81 L376.4,291.81 L373.8,287.28 Z" fill="#1a8a88" stroke="#1a8a88" stroke-width="0.1"/>
<path d="M379.4,287.61 L384.6,287.61 L382,283.08 Z" fill="#1a8a88" stroke="#1a8a88" stroke-width="0.1"/>
<path d="M386.6,283.21 L391.8,283.21 L389.2,278.68 Z" fill="#1a8a88" stroke="#1a8a88" stroke-width="0.1"/>
<path d="M393.8,279.11 L399,279.11 L396.4,274.58 Z" fill="#1a8a88" stroke="#1a8a88" stroke-width="0.1"/>
<path d="M399.3,274.81 L404.5,274.81 L401.9,270.28 Z" fill="#1a8a88" stroke="#1a8a88" stroke-width="0.1"/>
<path d="M404.7,270.41 L409.9,270.41 L407.3,265.88 Z" fill="#1a8a88" stroke="#1a8a88" stroke-width="0.1"/>
<path d="M411.9,266.11 L417.1,266.11 L414.5,261.58 Z" fill="#1a8a88" stroke="#1a8a88" stroke-width="0.1"/>
<path d="M416.1,261.41 L421.3,261.41 L418.7,256.88 Z" fill="#1a8a88" stroke="#1a8a88" stroke-width="0.1"/>
<path d="M421,256.61 L426.2,256.61 L423.6,252.08 Z" fill="#1a8a88" stroke="#1a8a88" stroke-width="0.1"/>
<path d="M425.3,252.11 L430.5,252.11 L427.9,247.58 Z" fill="#1a8a88" stroke="#1a8a88" stroke-width="0.1"/>
<path d="M429.1,248.11 L434.3,248.11 L431.7,243.58 Z" fill="#1a8a88" stroke="#1a8a88" stroke-width="0.1"/>
<path d="M433.4,244.11 L438.6,244.11 L436,239.58 Z" fill="#1a8a88" stroke="#1a8a88" stroke-width="0.1"/>
<path d="M438.3,239.51 L443.5,239.51 L440.9,234.98 Z" fill="#1a8a88" stroke="#1a8a88" stroke-width="0.1"/>
<path d="M441.6,235.11 L446.8,235.11 L444.2,230.58 Z" fill="#1a8a88" stroke="#1a8a88" stroke-width="0.1"/>
<path d="M444.8,230.81 L450,230.81 L447.4,226.28 Z" fill="#1a8a88" stroke="#1a8a88" stroke-width="0.1"/>
<path d="M447.2,226.71 L452.4,226.71 L449.8,222.18 Z" fill="#1a8a88" stroke="#1a8a88" stroke-width="0.1"/>
<path d="M449.9,222.51 L455.1,222.51 L452.5,217.98 Z" fill="#1a8a88" stroke="#1a8a88" stroke-width="0.1"/>
<path d="M307.2,329.9 L314.5,325.5 L328.4,321.1 L339.4,316.8 L343.9,312.6 L355.4,308.4 L363.7,304.1 L374.5,299.7 L382.4,295.4 L386.9,291.1 L394.5,286.6 L402.2,282 L408,277.9 L413.8,273.6 L419.3,268.4 L425,264.3 L428.9,260 L435.1,255.7 L438.5,251.3 L441.4,247 L445.4,243 L448.3,238.5 L451,234.2" fill="none" stroke="#3a968e" stroke-width="1.1" stroke-dasharray="3.2,2.4"/>
<path d="M304.6,328.39 L309.8,328.39 L307.2,332.92 Z" fill="#3a968e" stroke="#3a968e" stroke-width="0.1"/>
<path d="M311.9,323.99 L317.1,323.99 L314.5,328.52 Z" fill="#3a968e" stroke="#3a968e" stroke-width="0.1"/>
<path d="M325.8,319.59 L331,319.59 L328.4,324.12 Z" fill="#3a968e" stroke="#3a968e" stroke-width="0.1"/>
<path d="M336.8,315.29 L342,315.29 L339.4,319.82 Z" fill="#3a968e" stroke="#3a968e" stroke-width="0.1"/>
<path d="M341.3,311.09 L346.5,311.09 L343.9,315.62 Z" fill="#3a968e" stroke="#3a968e" stroke-width="0.1"/>
<path d="M352.8,306.89 L358,306.89 L355.4,311.42 Z" fill="#3a968e" stroke="#3a968e" stroke-width="0.1"/>
<path d="M361.1,302.59 L366.3,302.59 L363.7,307.12 Z" fill="#3a968e" stroke="#3a968e" stroke-width="0.1"/>
<path d="M371.9,298.19 L377.1,298.19 L374.5,302.72 Z" fill="#3a968e" stroke="#3a968e" stroke-width="0.1"/>
<path d="M379.8,293.89 L385,293.89 L382.4,298.42 Z" fill="#3a968e" stroke="#3a968e" stroke-width="0.1"/>
<path d="M384.3,289.59 L389.5,289.59 L386.9,294.12 Z" fill="#3a968e" stroke="#3a968e" stroke-width="0.1"/>
<path d="M391.9,285.09 L397.1,285.09 L394.5,289.62 Z" fill="#3a968e" stroke="#3a968e" stroke-width="0.1"/>
<path d="M399.6,280.49 L404.8,280.49 L402.2,285.02 Z" fill="#3a968e" stroke="#3a968e" stroke-width="0.1"/>
<path d="M405.4,276.39 L410.6,276.39 L408,280.92 Z" fill="#3a968e" stroke="#3a968e" stroke-width="0.1"/>
<path d="M411.2,272.09 L416.4,272.09 L413.8,276.62 Z" fill="#3a968e" stroke="#3a968e" stroke-width="0.1"/>
<path d="M416.7,266.89 L421.9,266.89 L419.3,271.42 Z" fill="#3a968e" stroke="#3a968e" stroke-width="0.1"/>
<path d="M422.4,262.79 L427.6,262.79 L425,267.32 Z" fill="#3a968e" stroke="#3a968e" stroke-width="0.1"/>
<path d="M426.3,258.49 L431.5,258.49 L428.9,263.02 Z" fill="#3a968e" stroke="#3a968e" stroke-width="0.1"/>
<path d="M432.5,254.19 L437.7,254.19 L435.1,258.72 Z" fill="#3a968e" stroke="#3a968e" stroke-width="0.1"/>
<path d="M435.9,249.79 L441.1,249.79 L438.5,254.32 Z" fill="#3a968e" stroke="#3a968e" stroke-width="0.1"/>
<path d="M438.8,245.49 L444,245.49 L441.4,250.02 Z" fill="#3a968e" stroke="#3a968e" stroke-width="0.1"/>
<path d="M442.8,241.49 L448,241.49 L445.4,246.02 Z" fill="#3a968e" stroke="#3a968e" stroke-width="0.1"/>
<path d="M445.7,236.99 L450.9,236.99 L448.3,241.52 Z" fill="#3a968e" stroke="#3a968e" stroke-width="0.1"/>
<path d="M448.4,232.69 L453.6,232.69 L451,237.22 Z" fill="#3a968e" stroke="#3a968e" stroke-width="0.1"/>
<path d="M312.6,334.2 L324,329.9 L332,325.5 L343.7,321.1 L348.7,316.8 L358.2,312.3 L368,308.1 L375.6,303.8 L383.4,299.4 L393.2,295.2 L398.6,290.6 L404.4,286.3 L411.6,282 L419.6,277.9 L424.5,273.5 L428.5,269.2 L432.5,264.8 L436.5,260.3 L440.4,255.9 L444.7,252.1 L448,247.7 L450.5,243.5 L453,239.5" fill="none" stroke="#6e9d7a" stroke-width="1.1" stroke-dasharray="3.2,2.4"/>
<path d="M312.6,331.5 L315.3,334.2 L312.6,336.9 L309.9,334.2 Z" fill="#6e9d7a" stroke="#6e9d7a" stroke-width="0.1"/>
<path d="M324,327.2 L326.7,329.9 L324,332.6 L321.3,329.9 Z" fill="#6e9d7a" stroke="#6e9d7a" stroke-width="0.1"/>
<path d="M332,322.8 L334.7,325.5 L332,328.2 L329.3,325.5 Z" fill="#6e9d7a" stroke="#6e9d7a" stroke-width="0.1"/>
<path d="M343.7,318.4 L346.4,321.1 L343.7,323.8 L341,321.1 Z" fill="#6e9d7a" stroke="#6e9d7a" stroke-width="0.1"/>
<path d="M348.7,314.1 L351.4,316.8 L348.7,319.5 L346,316.8 Z" fill="#6e9d7a" stroke="#6e9d7a" stroke-width="0.1"/>
<path d="M358.2,309.6 L360.9,312.3 L358.2,315 L355.5,312.3 Z" fill="#6e9d7a" stroke="#6e9d7a" stroke-width="0.1"/>
<path d="M368,305.4 L370.7,308.1 L368,310.8 L365.3,308.1 Z" fill="#6e9d7a" stroke="#6e9d7a" stroke-width="0.1"/>
<path d="M375.6,301.1 L378.3,303.8 L375.6,306.5 L372.9,303.8 Z" fill="#6e9d7a" stroke="#6e9d7a" stroke-width="0.1"/>
<path d="M383.4,296.7 L386.1,299.4 L383.4,302.1 L380.7,299.4 Z" fill="#6e9d7a" stroke="#6e9d7a" stroke-width="0.1"/>
<path d="M393.2,292.5 L395.9,295.2 L393.2,297.9 L390.5,295.2 Z" fill="#6e9d7a" stroke="#6e9d7a" stroke-width="0.1"/>
<path d="M398.6,287.9 L401.3,290.6 L398.6,293.3 L395.9,290.6 Z" fill="#6e9d7a" stroke="#6e9d7a" stroke-width="0.1"/>
<path d="M404.4,283.6 L407.1,286.3 L404.4,289 L401.7,286.3 Z" fill="#6e9d7a" stroke="#6e9d7a" stroke-width="0.1"/>
<path d="M411.6,279.3 L414.3,282 L411.6,284.7 L408.9,282 Z" fill="#6e9d7a" stroke="#6e9d7a" stroke-width="0.1"/>
<path d="M419.6,275.2 L422.3,277.9 L419.6,280.6 L416.9,277.9 Z" fill="#6e9d7a" stroke="#6e9d7a" stroke-width="0.1"/>
<path d="M424.5,270.8 L427.2,273.5 L424.5,276.2 L421.8,273.5 Z" fill="#6e9d7a" stroke="#6e9d7a" stroke-width="0.1"/>
<path d="M428.5,266.5 L431.2,269.2 L428.5,271.9 L425.8,269.2 Z" fill="#6e9d7a" stroke="#6e9d7a" stroke-width="0.1"/>
<path d="M432.5,262.1 L435.2,264.8 L432.5,267.5 L429.8,264.8 Z" fill="#6e9d7a" stroke="#6e9d7a" stroke-width="0.1"/>
<path d="M436.5,257.6 L439.2,260.3 L436.5,263 L433.8,260.3 Z" fill="#6e9d7a" stroke="#6e9d7a" stroke-width="0.1"/>
<path d="M440.4,253.2 L443.1,255.9 L440.4,258.6 L437.7,255.9 Z" fill="#6e9d7a" stroke="#6e9d7a" stroke-width="0.1"/>
<path d="M444.7,249.4 L447.4,252.1 L444.7,254.8 L442,252.1 Z" fill="#6e9d7a" stroke="#6e9d7a" stroke-width="0.1"/>
<path d="M448,245 L450.7,247.7 L448,250.4 L445.3,247.7 Z" fill="#6e9d7a" stroke="#6e9d7a" stroke-width="0.1"/>
<path d="M450.5,240.8 L453.2,243.5 L450.5,246.2 L447.8,243.5 Z" fill="#6e9d7a" stroke="#6e9d7a" stroke-width="0.1"/>
<path d="M453,236.8 L455.7,239.5 L453,242.2 L450.3,239.5 Z" fill="#6e9d7a" stroke="#6e9d7a" stroke-width="0.1"/>
</g>
<line x1="282" y1="215.4" x2="305" y2="215.4" stroke="#14505f" stroke-width="1.2" stroke-dasharray="3.2,2.4"/>
<rect x="292.2" y="213.5" width="3.8" height="3.8" fill="#14505f" stroke="#14505f" stroke-width="0.1"/>
<text x="308.4" y="219" font-size="10" text-anchor="start" >30°C</text>
<line x1="282" y1="228.3" x2="305" y2="228.3" stroke="#106f8c" stroke-width="1.2" stroke-dasharray="3.2,2.4"/>
<circle cx="294.1" cy="228.3" r="2.2" fill="#106f8c"/>
<text x="308.4" y="231.9" font-size="10" text-anchor="start" >40°C</text>
<line x1="282" y1="241.2" x2="305" y2="241.2" stroke="#1a8a88" stroke-width="1.2" stroke-dasharray="3.2,2.4"/>
<path d="M291.5,242.71 L296.7,242.71 L294.1,238.18 Z" fill="#1a8a88" stroke="#1a8a88" stroke-width="0.1"/>
<text x="308.4" y="244.8" font-size="10" text-anchor="start" >50°C</text>
<line x1="282" y1="254.1" x2="305" y2="254.1" stroke="#3a968e" stroke-width="1.2" stroke-dasharray="3.2,2.4"/>
<path d="M291.5,252.59 L296.7,252.59 L294.1,257.12 Z" fill="#3a968e" stroke="#3a968e" stroke-width="0.1"/>
<text x="308.4" y="257.7" font-size="10" text-anchor="start" >60°C</text>
<line x1="282" y1="267" x2="305" y2="267" stroke="#6e9d7a" stroke-width="1.2" stroke-dasharray="3.2,2.4"/>
<path d="M294.1,264.3 L296.8,267 L294.1,269.7 L291.4,267 Z" fill="#6e9d7a" stroke="#6e9d7a" stroke-width="0.1"/>
<text x="308.4" y="270.6" font-size="10" text-anchor="start" >70°C</text>
<line x1="516.3" y1="251.6" x2="655" y2="259.3" stroke="#f2707a" stroke-width="1.3" stroke-dasharray="5.5,3.5"/>
<line x1="516.3" y1="298.3" x2="655" y2="332.2" stroke="#84a695" stroke-width="1.3" stroke-dasharray="5.5,3.5"/>
<path d="M516,247.7 V256.1 M514.1,247.7 H517.9 M514.1,256.1 H517.9" stroke="#f2707a" stroke-width="0.8" fill="none"/>
<path d="M513,253.64 L519,253.64 L516,248.42 Z" fill="#fff" stroke="#f2707a" stroke-width="1.1"/>
<path d="M547.1,250.1 V256.9 M545.2,250.1 H549 M545.2,256.9 H549" stroke="#f2707a" stroke-width="0.8" fill="none"/>
<path d="M544.1,255.24 L550.1,255.24 L547.1,250.02 Z" fill="#fff" stroke="#f2707a" stroke-width="1.1"/>
<path d="M581,253.4 V257.8 M579.1,253.4 H582.9 M579.1,257.8 H582.9" stroke="#f2707a" stroke-width="0.8" fill="none"/>
<path d="M578,257.34 L584,257.34 L581,252.12 Z" fill="#fff" stroke="#f2707a" stroke-width="1.1"/>
<path d="M616.6,255.9 V259.1 M614.7,255.9 H618.5 M614.7,259.1 H618.5" stroke="#f2707a" stroke-width="0.8" fill="none"/>
<path d="M613.6,259.24 L619.6,259.24 L616.6,254.02 Z" fill="#fff" stroke="#f2707a" stroke-width="1.1"/>
<path d="M655,257.6 V260.8 M653.1,257.6 H656.9 M653.1,260.8 H656.9" stroke="#f2707a" stroke-width="0.8" fill="none"/>
<path d="M652,260.94 L658,260.94 L655,255.72 Z" fill="#fff" stroke="#f2707a" stroke-width="1.1"/>
<path d="M516.3,291.4 V303.8 M514.4,291.4 H518.2 M514.4,303.8 H518.2" stroke="#84a695" stroke-width="0.8" fill="none"/>
<circle cx="516.3" cy="297.6" r="2.7" fill="#fff" stroke="#84a695" stroke-width="1.0"/>
<path d="M547.3,303.7 V309.3 M545.4,303.7 H549.2 M545.4,309.3 H549.2" stroke="#84a695" stroke-width="0.8" fill="none"/>
<circle cx="547.3" cy="306.5" r="2.7" fill="#fff" stroke="#84a695" stroke-width="1.0"/>
<path d="M581,310.1 V312.5 M579.1,310.1 H582.9 M579.1,312.5 H582.9" stroke="#84a695" stroke-width="0.8" fill="none"/>
<circle cx="581" cy="311.3" r="2.7" fill="#fff" stroke="#84a695" stroke-width="1.0"/>
<path d="M616.5,317.4 V322.6 M614.6,317.4 H618.4 M614.6,322.6 H618.4" stroke="#84a695" stroke-width="0.8" fill="none"/>
<circle cx="616.5" cy="320" r="2.7" fill="#fff" stroke="#84a695" stroke-width="1.0"/>
<path d="M654.8,328.3 V337.9 M652.9,328.3 H656.7 M652.9,337.9 H656.7" stroke="#84a695" stroke-width="0.8" fill="none"/>
<circle cx="654.8" cy="333.1" r="2.7" fill="#fff" stroke="#84a695" stroke-width="1.0"/>
<path d="M598.9,219.22 L604.5,219.22 L601.7,214.35 Z" fill="#fff" stroke="#f2707a" stroke-width="1.0"/>
<circle cx="601.7" cy="233.1" r="2.7" fill="#fff" stroke="#84a695" stroke-width="1.0"/>
<text x="616.2" y="221.7" font-size="10.2" text-anchor="start" >RhRu<tspan dy="2.5" font-size="7.5">3</tspan><tspan dy="-2.5">O</tspan><tspan dy="2.5" font-size="7.5">x</tspan></text>
<text x="616.2" y="237.2" font-size="10.2" text-anchor="start" >Hom-RuO<tspan dy="2.5" font-size="7.5">2</tspan></text>
<text x="551" y="276.3" font-size="9.6" text-anchor="start" >E<tspan dy="2" font-size="7">a</tspan><tspan dy="-2">= -10.9 ± 0.5 kJ mol</tspan><tspan dy="-4" font-size="7">-1</tspan></text>
<text x="498.9" y="329.7" font-size="9.6" text-anchor="start" >E<tspan dy="2" font-size="7">a</tspan><tspan dy="-2">= -46.7 ± 3.7 kJ mol</tspan><tspan dy="-4" font-size="7">-1</tspan></text>
<defs><clipPath id="clipG"><rect x="42.3" y="387.2" width="632.4" height="122.8"/></clipPath></defs>
<g clip-path="url(#clipG)">
<path d="M42.3,454.5 L42.4,453.98 L42.51,453.48 L42.65,452.98 L42.8,452.49 L42.97,451.96 L43.17,451.42 L43.4,450.96 L43.67,450.64 L44.04,450.41 L44.5,450.21 L45.02,450.04 L45.57,449.89 L46.13,449.75 L46.65,449.61 L47.15,449.48 L47.65,449.35 L48.15,449.23 L48.66,449.11 L49.17,448.99 L49.67,448.88 L50.18,448.78 L50.69,448.67 L51.2,448.57 L51.72,448.48 L52.23,448.38 L52.74,448.28 L53.25,448.19 L53.76,448.1 L54.27,448 L54.78,447.91 L55.3,447.82 L55.81,447.74 L56.32,447.65 L56.83,447.57 L57.35,447.49 L57.86,447.41 L58.37,447.34 L58.89,447.26 L59.4,447.18 L59.91,447.11 L60.43,447.03 L60.94,446.96 L61.46,446.88 L61.97,446.8 L62.48,446.72 L63,446.64 L63.51,446.56 L64.02,446.48 L64.54,446.4 L65.05,446.31 L65.56,446.22 L66.07,446.13 L66.58,446.05 L67.1,445.96 L67.61,445.87 L68.12,445.78 L68.64,445.7 L69.15,445.61 L69.67,445.52 L70.18,445.43 L70.69,445.33 L71.2,445.24 L71.71,445.14 L72.22,445.04 L72.73,444.94 L73.24,444.84 L73.75,444.73 L74.25,444.62 L74.76,444.5 L75.26,444.38 L75.76,444.26 L76.26,444.13 L76.76,444 L77.27,443.86 L77.78,443.72 L78.29,443.58 L78.8,443.42 L79.31,443.27 L79.81,443.1 L80.31,442.93 L80.81,442.75 L81.29,442.56 L81.78,442.37 L82.25,442.16 L82.71,441.95 L83.16,441.73 L83.6,441.5 L84.03,441.25 L84.46,440.98 L84.9,440.68 L85.32,440.35 L85.74,440.01 L86.15,439.65 L86.54,439.28 L86.91,438.9 L87.26,438.51 L87.59,438.12 L87.88,437.72 L88.16,437.32 L88.42,436.89 L88.68,436.45 L88.92,435.99 L89.16,435.52 L89.38,435.04 L89.6,434.55 L89.8,434.06 L89.99,433.56 L90.17,433.06 L90.34,432.56 L90.5,432.06 L90.64,431.57 L90.77,431.07 L90.9,430.57 L91.02,430.07 L91.14,429.56 L91.24,429.05 L91.35,428.53 L91.44,428.02 L91.53,427.5 L91.61,426.99 L91.68,426.47 L91.74,425.96 L91.8,425.45 L91.86,424.93 L91.92,424.41 L91.97,423.9 L92.01,423.38 L92.06,422.86 L92.1,422.34 L92.14,421.82 L92.17,421.3 L92.2,420.79 L92.23,420.27 L92.26,419.75 L92.28,419.23 L92.31,418.71 L92.33,418.19 L92.36,417.68 L92.38,417.16 L92.4,416.64 L92.42,416.12 L92.44,415.6 L92.46,415.08 L92.48,414.56 L92.49,414.04 L92.51,413.52 L92.53,413 L92.54,412.48 L92.55,411.96 L92.57,411.44 L92.58,410.93 L92.59,410.41 L92.6,409.89 L92.61,409.37 L92.62,408.85 L92.63,408.33 L92.64,407.81 L92.65,407.29 L92.66,406.77 L92.67,406.25 L92.67,405.73 L92.68,405.21 L92.69,404.7 L92.69,404.18 L92.7,403.66 L92.71,403.14 L92.71,402.62 L92.72,402.1 L92.73,401.58 L92.73,401.06 L92.74,400.54 L92.74,400.02 L92.75,399.5 L92.75,398.98 L92.76,398.46 L92.77,397.94 L92.77,397.42 L92.78,396.91 L92.78,396.39 L92.79,395.87 L92.8,395.35 L92.8,394.83 L92.81,394.31 L92.81,393.79 L92.82,393.27 L92.83,392.75 L92.83,392.23 L92.84,391.71 L92.84,391.19 L92.85,390.67 L92.86,390.15 L92.86,389.64 L92.87,389.12 L92.87,388.6 L92.88,388.08 L92.88,387.56 L92.89,387.04 L92.89,386.52 L92.9,386" fill="none" stroke="#d8c43c" stroke-width="1.6"/>
<path d="M42.3,464.5 L42.45,463.81 L42.66,463.16 L42.92,462.54 L43.27,461.93 L43.69,461.35 L44.15,460.83 L44.63,460.39 L45.16,459.99 L45.74,459.61 L46.36,459.26 L47.01,458.94 L47.66,458.67 L48.32,458.44 L48.97,458.26 L49.61,458.1 L50.27,457.96 L50.93,457.83 L51.61,457.71 L52.28,457.59 L52.97,457.49 L53.65,457.39 L54.34,457.3 L55.04,457.21 L55.73,457.13 L56.42,457.05 L57.12,456.97 L57.81,456.9 L58.5,456.83 L59.19,456.75 L59.88,456.68 L60.56,456.61 L61.24,456.54 L61.93,456.47 L62.61,456.4 L63.3,456.34 L63.99,456.27 L64.67,456.21 L65.36,456.15 L66.04,456.09 L66.73,456.03 L67.42,455.97 L68.1,455.91 L68.79,455.86 L69.48,455.81 L70.16,455.76 L70.85,455.71 L71.54,455.66 L72.23,455.61 L72.91,455.57 L73.6,455.53 L74.29,455.49 L74.98,455.45 L75.66,455.42 L76.35,455.38 L77.04,455.35 L77.73,455.32 L78.41,455.29 L79.1,455.27 L79.79,455.24 L80.48,455.22 L81.17,455.2 L81.86,455.18 L82.54,455.16 L83.23,455.14 L83.92,455.12 L84.61,455.1 L85.3,455.08 L85.99,455.06 L86.68,455.05 L87.37,455.03 L88.06,455.01 L88.74,455 L89.43,454.98 L90.12,454.96 L90.81,454.94 L91.5,454.92 L92.19,454.91 L92.88,454.89 L93.56,454.86 L94.25,454.84 L94.94,454.82 L95.63,454.79 L96.32,454.77 L97,454.74 L97.69,454.71 L98.38,454.68 L99.06,454.65 L99.75,454.61 L100.44,454.58 L101.12,454.53 L101.81,454.48 L102.49,454.43 L103.18,454.37 L103.86,454.3 L104.55,454.23 L105.23,454.16 L105.92,454.08 L106.6,454 L107.28,453.92 L107.97,453.84 L108.65,453.75 L109.34,453.66 L110.02,453.57 L110.7,453.48 L111.39,453.39 L112.07,453.3 L112.75,453.21 L113.44,453.13 L114.12,453.04 L114.81,452.95 L115.49,452.87 L116.17,452.79 L116.86,452.71 L117.54,452.63 L118.23,452.56 L118.91,452.48 L119.59,452.4 L120.28,452.32 L120.96,452.24 L121.65,452.16 L122.33,452.08 L123.01,452 L123.7,451.92 L124.38,451.84 L125.07,451.76 L125.75,451.68 L126.43,451.6 L127.12,451.52 L127.8,451.43 L128.48,451.35 L129.17,451.27 L129.85,451.18 L130.53,451.1 L131.22,451.01 L131.9,450.93 L132.58,450.84 L133.27,450.75 L133.95,450.67 L134.63,450.58 L135.32,450.49 L136,450.41 L136.68,450.32 L137.37,450.24 L138.05,450.15 L138.73,450.06 L139.42,449.97 L140.1,449.88 L140.78,449.79 L141.47,449.7 L142.15,449.61 L142.83,449.51 L143.51,449.42 L144.19,449.32 L144.88,449.22 L145.56,449.12 L146.24,449.01 L146.92,448.91 L147.59,448.8 L148.27,448.69 L148.95,448.58 L149.63,448.46 L150.31,448.34 L150.99,448.22 L151.67,448.1 L152.34,447.98 L153.02,447.85 L153.7,447.73 L154.38,447.6 L155.06,447.46 L155.73,447.33 L156.41,447.19 L157.08,447.05 L157.76,446.91 L158.43,446.76 L159.11,446.62 L159.78,446.47 L160.45,446.31 L161.12,446.16 L161.79,446 L162.46,445.84 L163.12,445.67 L163.79,445.5 L164.45,445.33 L165.12,445.16 L165.78,444.97 L166.44,444.78 L167.1,444.59 L167.76,444.38 L168.41,444.18 L169.07,443.97 L169.73,443.75 L170.38,443.53 L171.03,443.31 L171.69,443.08 L172.34,442.85 L172.99,442.62 L173.63,442.38 L174.28,442.15 L174.93,441.91 L175.57,441.67 L176.22,441.44 L176.87,441.2 L177.52,440.96 L178.17,440.72 L178.83,440.48 L179.48,440.23 L180.13,439.98 L180.77,439.73 L181.41,439.46 L182.05,439.19 L182.68,438.91 L183.3,438.63 L183.91,438.33 L184.51,438.02 L185.11,437.7 L185.69,437.36 L186.27,437 L186.85,436.62 L187.43,436.23 L187.99,435.82 L188.55,435.4 L189.1,434.96 L189.64,434.52 L190.16,434.06 L190.67,433.6 L191.17,433.13 L191.64,432.66 L192.11,432.17 L192.57,431.66 L193.02,431.14 L193.46,430.61 L193.89,430.06 L194.31,429.5 L194.73,428.94 L195.13,428.37 L195.51,427.79 L195.89,427.21 L196.26,426.63 L196.61,426.05 L196.96,425.46 L197.3,424.86 L197.63,424.26 L197.96,423.64 L198.27,423.02 L198.58,422.4 L198.87,421.77 L199.14,421.14 L199.4,420.51 L199.65,419.87 L199.89,419.23 L200.12,418.59 L200.35,417.94 L200.58,417.29 L200.8,416.63 L201.01,415.97 L201.22,415.31 L201.42,414.65 L201.61,413.98 L201.8,413.31 L201.97,412.64 L202.14,411.97 L202.3,411.3 L202.44,410.63 L202.58,409.95 L202.7,409.28 L202.82,408.61 L202.93,407.93 L203.04,407.26 L203.14,406.58 L203.23,405.9 L203.33,405.22 L203.42,404.53 L203.5,403.85 L203.59,403.16 L203.67,402.48 L203.75,401.79 L203.82,401.1 L203.89,400.42 L203.97,399.73 L204.03,399.04 L204.1,398.36 L204.17,397.67 L204.24,396.98 L204.3,396.3 L204.36,395.61 L204.43,394.93 L204.49,394.24 L204.55,393.56 L204.61,392.87 L204.66,392.18 L204.72,391.5 L204.77,390.81 L204.83,390.12 L204.88,389.44 L204.92,388.75 L204.97,388.06 L205.02,387.38 L205.06,386.69 L205.1,386" fill="none" stroke="#84a695" stroke-width="1.6"/>
<path d="M42.2,467.6 L43.79,467.26 L45.37,466.93 L46.96,466.59 L48.54,466.25 L50.13,466.07 L51.72,465.91 L53.3,465.75 L54.89,465.59 L56.47,465.43 L58.06,465.27 L59.65,465.11 L61.23,464.99 L62.82,464.87 L64.4,464.75 L65.99,464.64 L67.58,464.52 L69.16,464.4 L70.75,464.29 L72.33,464.17 L73.92,464.05 L75.51,463.94 L77.09,463.87 L78.68,463.81 L80.26,463.76 L81.85,463.71 L83.44,463.66 L85.02,463.61 L86.61,463.56 L88.19,463.51 L89.78,463.46 L91.36,463.41 L92.95,463.36 L94.54,463.31 L96.12,463.26 L97.71,463.21 L99.29,463.17 L100.88,462.65 L102.47,462.63 L104.05,462.62 L105.64,462.63 L107.22,462.63 L108.81,462.65 L110.4,462.66 L111.98,462.68 L113.57,462.7 L115.15,462.73 L116.74,462.75 L118.33,462.76 L119.91,462.78 L121.5,462.79 L123.08,462.79 L124.67,462.78 L126.26,462.77 L127.84,462.75 L129.43,462.72 L131.01,462.69 L132.6,462.64 L134.19,462.59 L135.77,462.53 L137.36,462.47 L138.94,462.4 L140.53,462.36 L142.12,462.37 L143.7,462.39 L145.29,462.4 L146.87,462.42 L148.46,462.45 L150.05,462.47 L151.63,462.5 L153.22,462.54 L154.8,462.58 L156.39,462.63 L157.98,462.69 L159.56,462.75 L161.15,462.81 L162.73,462.88 L164.32,462.96 L165.91,463.04 L167.49,463.12 L169.08,463.2 L170.66,463.28 L172.25,463.27 L173.84,463.25 L175.42,463.22 L177.01,463.19 L178.59,463.15 L180.18,463.11 L181.76,463.06 L183.35,462.99 L184.94,462.93 L186.52,462.85 L188.11,462.76 L189.69,462.67 L191.28,462.57 L192.87,462.47 L194.45,462.36 L196.04,462.25 L197.62,462.14 L199.21,462.02 L200.8,461.91 L202.38,461.8 L203.97,461.7 L205.55,461.6 L207.14,461.51 L208.73,461.42 L210.31,461.36 L211.9,461.34 L213.48,461.33 L215.07,461.33 L216.66,461.34 L218.24,461.35 L219.83,461.38 L221.41,461.41 L223,461.44 L224.59,461.48 L226.17,461.52 L227.76,461.56 L229.34,461.61 L230.93,461.65 L232.52,461.69 L234.1,461.72 L235.69,461.75 L237.27,461.78 L238.86,461.8 L240.45,461.81 L242.03,461.82 L243.62,461.82 L245.2,461.82 L246.79,461.81 L248.38,461.79 L249.96,461.77 L251.55,461.75 L253.13,461.72 L254.72,461.7 L256.31,461.68 L257.89,461.65 L259.48,461.64 L261.06,461.62 L262.65,461.62 L264.24,461.61 L265.82,461.62 L267.41,461.63 L268.99,461.65 L270.58,461.68 L272.16,461.72 L273.75,461.76 L275.34,461.81 L276.92,461.86 L278.51,461.92 L280.09,461.98 L281.68,462.04 L283.27,462.1 L284.85,462.16 L286.44,462.21 L288.02,462.27 L289.61,462.31 L291.2,462.36 L292.78,462.39 L294.37,462.41 L295.95,462.43 L297.54,462.44 L299.13,462.44 L300.71,462.42 L302.3,462.41 L303.88,462.38 L305.47,462.34 L307.06,462.3 L308.64,462.26 L310.23,462.21 L311.81,462.16 L313.4,462.11 L314.99,462.06 L316.57,462.01 L318.16,461.97 L319.74,461.93 L321.33,461.89 L322.92,461.86 L324.5,461.84 L326.09,461.83 L327.67,461.82 L329.26,461.82 L330.85,461.82 L332.43,461.83 L334.02,461.85 L335.6,461.87 L337.19,461.89 L338.78,461.92 L340.36,461.94 L341.95,461.97 L343.53,461.99 L345.12,462.01 L346.71,462.02 L348.29,462.03 L349.88,462.04 L351.46,462.03 L353.05,462.02 L354.64,462.01 L356.22,461.98 L357.81,461.95 L359.39,461.92 L360.98,461.88 L362.56,461.83 L364.15,461.79 L365.74,461.74 L367.32,461.69 L368.91,461.64 L370.49,461.6 L372.08,461.56 L373.67,461.52 L375.25,461.49 L376.84,461.47 L378.42,461.45 L380.01,461.45 L381.6,461.45 L383.18,461.46 L384.77,461.48 L386.35,461.51 L387.94,461.55 L389.53,461.59 L391.11,461.65 L392.7,461.7 L394.28,461.76 L395.87,461.82 L397.46,461.88 L399.04,461.95 L400.63,462.01 L402.21,462.06 L403.8,462.12 L405.39,462.16 L406.97,462.2 L408.56,462.23 L410.14,462.26 L411.73,462.28 L413.32,462.29 L414.9,462.29 L416.49,462.29 L418.07,462.28 L419.66,462.26 L421.25,462.24 L422.83,462.22 L424.42,462.19 L426,462.17 L427.59,462.14 L429.18,462.12 L430.76,462.1 L432.35,462.08 L433.93,462.07 L435.52,462.07 L437.11,462.07 L438.69,462.08 L440.28,462.09 L441.86,462.11 L443.45,462.14 L445.04,462.17 L446.62,462.2 L448.21,462.24 L449.79,462.28 L451.38,462.33 L452.96,462.37 L454.55,462.4 L456.14,462.44 L457.72,462.47 L459.31,462.5 L460.89,462.52 L462.48,462.53 L464.07,462.53 L465.65,462.53 L467.24,462.51 L468.82,462.49 L470.41,462.46 L472,462.42 L473.58,462.38 L475.17,462.33 L476.75,462.27 L478.34,462.21 L479.93,462.15 L481.51,462.09 L483.1,462.02 L484.68,461.96 L486.27,461.91 L487.86,461.85 L489.44,461.81 L491.03,461.77 L492.61,461.74 L494.2,461.71 L495.79,461.7 L497.37,461.69 L498.96,461.69 L500.54,461.7 L502.13,461.72 L503.72,461.74 L505.3,461.77 L506.89,461.8 L508.47,461.84 L510.06,461.88 L511.65,461.91 L513.23,461.95 L514.82,461.98 L516.4,462.02 L517.99,462.04 L519.58,462.06 L521.16,462.08 L522.75,462.09 L524.33,462.09 L525.92,462.09 L527.51,462.08 L529.09,462.07 L530.68,462.05 L532.26,462.03 L533.85,462 L535.44,461.97 L537.02,461.95 L538.61,461.92 L540.19,461.89 L541.78,461.87 L543.36,461.85 L544.95,461.84 L546.54,461.84 L548.12,461.84 L549.71,461.85 L551.29,461.87 L552.88,461.89 L554.47,461.93 L556.05,461.97 L557.64,462.02 L559.22,462.07 L560.81,462.13 L562.4,462.19 L563.98,462.25 L565.57,462.32 L567.15,462.38 L568.74,462.44 L570.33,462.5 L571.91,462.55 L573.5,462.6 L575.08,462.64 L576.67,462.67 L578.26,462.7 L579.84,462.71 L581.43,462.72 L583.01,462.71 L584.6,462.7 L586.19,462.68 L587.77,462.66 L589.36,462.62 L590.94,462.59 L592.53,462.54 L594.12,462.5 L595.7,462.46 L597.29,462.41 L598.87,462.37 L600.46,462.33 L602.05,462.29 L603.63,462.26 L605.22,462.23 L606.8,462.21 L608.39,462.2 L609.98,462.19 L611.56,462.19 L613.15,462.2 L614.73,462.21 L616.32,462.23 L617.91,462.25 L619.49,462.27 L621.08,462.3 L622.66,462.32 L624.25,462.35 L625.84,462.37 L627.42,462.39 L629.01,462.4 L630.59,462.41 L632.18,462.42 L633.76,462.41 L635.35,462.4 L636.94,462.39 L638.52,462.36 L640.11,462.33 L641.69,462.29 L643.28,462.25 L644.87,462.2 L646.45,462.15 L648.04,462.1 L649.62,462.04 L651.21,461.99 L652.8,461.94 L654.38,461.89 L655.97,461.85 L657.55,461.81 L659.14,461.78 L660.73,461.76 L662.31,461.74 L663.9,461.74 L665.48,461.74 L667.07,461.76 L668.66,461.78 L670.24,461.81 L671.83,461.85 L673.41,461.89 L675,461.94" fill="none" stroke="#f2707a" stroke-width="1.6"/>
</g>
<line x1="316.4" y1="404.1" x2="341.8" y2="404.1" stroke="#f2707a" stroke-width="1.5"/>
<text x="345" y="408" font-size="11.2" text-anchor="start" >RhRu<tspan dy="1.5">3</tspan><tspan dy="-1.5">O</tspan><tspan dy="2" font-size="10">x</tspan></text>
<line x1="316.4" y1="421" x2="341.8" y2="421" stroke="#84a695" stroke-width="1.5"/>
<text x="345" y="424.9" font-size="11.2" text-anchor="start" >Hom-RuO<tspan dy="2.5" font-size="7.5">2</tspan></text>
<line x1="316.4" y1="437.9" x2="341.8" y2="437.9" stroke="#d8c43c" stroke-width="1.5"/>
<text x="345" y="441.8" font-size="11.2" text-anchor="start" >Com-RuO<tspan dy="2.5" font-size="7.5">2</tspan></text>
<text x="594.3" y="407.7" font-size="11" text-anchor="start" >10 mA/cm<tspan dy="-4.5" font-size="8">2</tspan></text>
<text x="594.6" y="426.7" font-size="11" text-anchor="start" >0.1M HClO<tspan dy="2.5" font-size="8">4</tspan></text>
</svg>
</body></html>
